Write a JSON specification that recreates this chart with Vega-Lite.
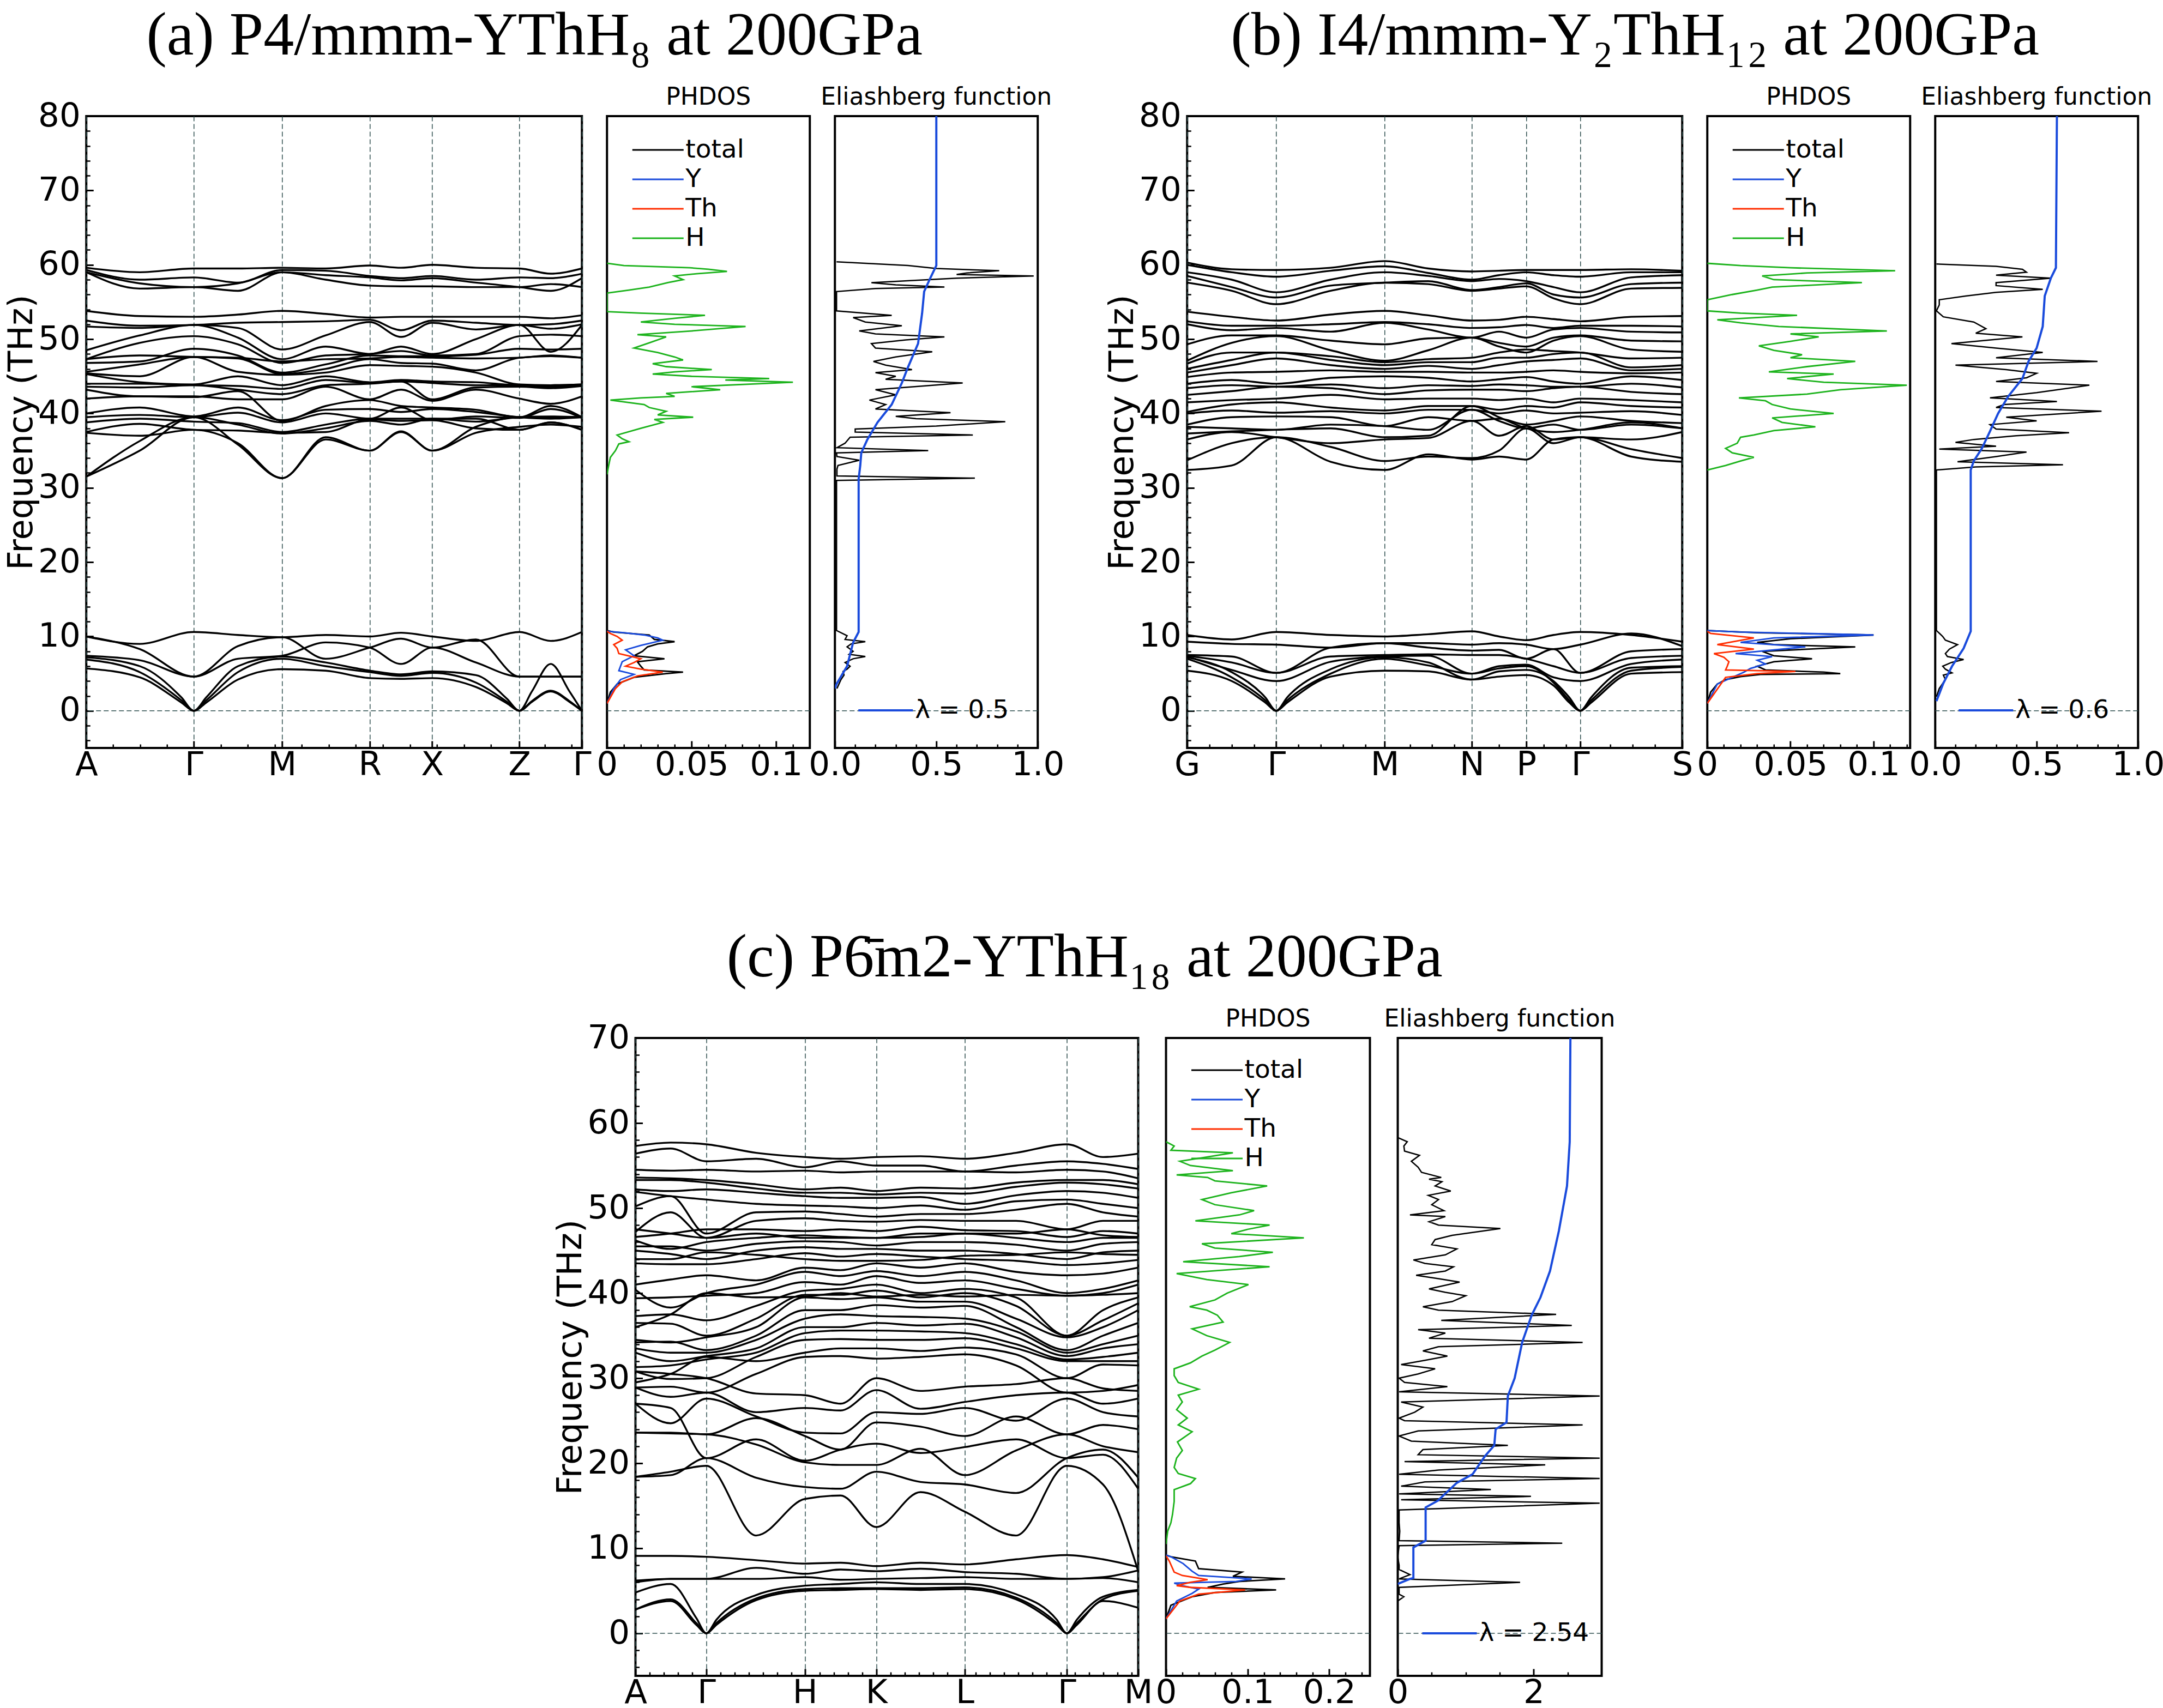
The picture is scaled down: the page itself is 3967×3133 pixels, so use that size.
{
"$schema":"https://vega.github.io/schema/vega-lite/v6.json",
"background":"white",
"padding":{"left":6,"top":10,"right":0,"bottom":0},
"config":{
 "view":{"stroke":"black","strokeWidth":4},
 "axis":{"domain":false,"grid":false,"labelFont":"DejaVu Sans","titleFont":"DejaVu Sans","labelFontSize":61,"titleFontSize":62,"titleFontWeight":"normal","labelColor":"black","titleColor":"black","tickColor":"black","labelFlush":false,"labelOverlap":false},
 "legend":{"labelFont":"DejaVu Sans","labelFontSize":47,"labelColor":"black","symbolType":"stroke","labelLimit":500},
 "title":{"font":"DejaVu Sans","fontWeight":"normal","color":"black"}
},
"datasets":{
"ba":[
{"b":1,"k":0,"f":10},{"b":1,"k":0.108,"f":9},{"b":1,"k":0.217,"f":10.6},{"b":1,"k":0.306,"f":10.2},{"b":1,"k":0.395,"f":9.9},{"b":1,"k":0.483,"f":10.2},{"b":1,"k":0.572,"f":10},{"b":1,"k":0.635,"f":10.5},{"b":1,"k":0.698,"f":10},{"b":1,"k":0.786,"f":9.4},{"b":1,"k":0.874,"f":10.6},{"b":1,"k":0.937,"f":9.4},{"b":1,"k":1,"f":10.6},
{"b":2,"k":0,"f":10},{"b":2,"k":0.108,"f":8.3},{"b":2,"k":0.217,"f":4.6},{"b":2,"k":0.306,"f":8.7},{"b":2,"k":0.395,"f":9.9},{"b":2,"k":0.483,"f":7},{"b":2,"k":0.572,"f":8.5},{"b":2,"k":0.635,"f":9.7},{"b":2,"k":0.698,"f":8.5},{"b":2,"k":0.786,"f":9.6},{"b":2,"k":0.874,"f":4.6},{"b":2,"k":0.937,"f":4.6},{"b":2,"k":1,"f":4.6},
{"b":3,"k":0,"f":7.4},{"b":3,"k":0.108,"f":6.8},{"b":3,"k":0.217,"f":4.6},{"b":3,"k":0.306,"f":7},{"b":3,"k":0.395,"f":7.4},{"b":3,"k":0.483,"f":9.2},{"b":3,"k":0.572,"f":8.5},{"b":3,"k":0.635,"f":6.3},{"b":3,"k":0.698,"f":8.5},{"b":3,"k":0.786,"f":6.5},{"b":3,"k":0.874,"f":4.6},{"b":3,"k":0.937,"f":4.6},{"b":3,"k":1,"f":4.6},
{"b":4,"k":0,"f":7.2},{"b":4,"k":0.108,"f":6},{"b":4,"k":0.192,"f":1.8},{"b":4,"k":0.217,"f":0},{"b":4,"k":0.242,"f":1.8},{"b":4,"k":0.306,"f":6},{"b":4,"k":0.395,"f":7.3},{"b":4,"k":0.483,"f":6.5},{"b":4,"k":0.572,"f":5.4},{"b":4,"k":0.635,"f":4.9},{"b":4,"k":0.698,"f":5.3},{"b":4,"k":0.786,"f":4.8},{"b":4,"k":0.849,"f":1.6},{"b":4,"k":0.874,"f":0},{"b":4,"k":0.899,"f":2.6},{"b":4,"k":0.937,"f":6.3},{"b":4,"k":0.975,"f":2.6},{"b":4,"k":1,"f":0},
{"b":5,"k":0,"f":6.9},{"b":5,"k":0.108,"f":5.2},{"b":5,"k":0.192,"f":1.4},{"b":5,"k":0.217,"f":0},{"b":5,"k":0.242,"f":1.4},{"b":5,"k":0.306,"f":5.2},{"b":5,"k":0.395,"f":7},{"b":5,"k":0.483,"f":6},{"b":5,"k":0.572,"f":5.2},{"b":5,"k":0.635,"f":4.7},{"b":5,"k":0.698,"f":5.1},{"b":5,"k":0.786,"f":3.8},{"b":5,"k":0.849,"f":1.2},{"b":5,"k":0.874,"f":0},{"b":5,"k":0.899,"f":1.3},{"b":5,"k":0.937,"f":2.7},{"b":5,"k":0.975,"f":1.3},{"b":5,"k":1,"f":0},
{"b":6,"k":0,"f":5.7},{"b":6,"k":0.108,"f":4.5},{"b":6,"k":0.192,"f":1.1},{"b":6,"k":0.217,"f":0},{"b":6,"k":0.242,"f":1.1},{"b":6,"k":0.306,"f":4.2},{"b":6,"k":0.395,"f":5.6},{"b":6,"k":0.483,"f":5.4},{"b":6,"k":0.572,"f":4.4},{"b":6,"k":0.635,"f":4.3},{"b":6,"k":0.698,"f":4.4},{"b":6,"k":0.786,"f":3.2},{"b":6,"k":0.849,"f":1},{"b":6,"k":0.874,"f":0},{"b":6,"k":0.899,"f":1.2},{"b":6,"k":0.937,"f":2.6},{"b":6,"k":0.975,"f":1.2},{"b":6,"k":1,"f":0},
{"b":7,"k":0,"f":59.6},{"b":7,"k":0.108,"f":59},{"b":7,"k":0.217,"f":59.5},{"b":7,"k":0.306,"f":59.5},{"b":7,"k":0.395,"f":59.6},{"b":7,"k":0.483,"f":59.5},{"b":7,"k":0.572,"f":59.9},{"b":7,"k":0.635,"f":59.6},{"b":7,"k":0.698,"f":60},{"b":7,"k":0.786,"f":59.6},{"b":7,"k":0.874,"f":59.5},{"b":7,"k":0.937,"f":58.8},{"b":7,"k":1,"f":59.5},
{"b":8,"k":0,"f":59.3},{"b":8,"k":0.108,"f":58},{"b":8,"k":0.217,"f":58.3},{"b":8,"k":0.306,"f":57.6},{"b":8,"k":0.395,"f":59.3},{"b":8,"k":0.483,"f":59.2},{"b":8,"k":0.572,"f":58.5},{"b":8,"k":0.635,"f":58.2},{"b":8,"k":0.698,"f":58.5},{"b":8,"k":0.786,"f":58},{"b":8,"k":0.874,"f":58.3},{"b":8,"k":0.937,"f":58.2},{"b":8,"k":1,"f":58.8},
{"b":9,"k":0,"f":59},{"b":9,"k":0.108,"f":57.5},{"b":9,"k":0.217,"f":57},{"b":9,"k":0.306,"f":57.5},{"b":9,"k":0.395,"f":59},{"b":9,"k":0.483,"f":58.6},{"b":9,"k":0.572,"f":58.3},{"b":9,"k":0.635,"f":57.9},{"b":9,"k":0.698,"f":58.2},{"b":9,"k":0.786,"f":57.6},{"b":9,"k":0.874,"f":57},{"b":9,"k":0.937,"f":56.5},{"b":9,"k":1,"f":58.2},
{"b":10,"k":0,"f":59},{"b":10,"k":0.108,"f":56.8},{"b":10,"k":0.217,"f":57},{"b":10,"k":0.306,"f":56.5},{"b":10,"k":0.395,"f":59},{"b":10,"k":0.483,"f":58},{"b":10,"k":0.572,"f":57.2},{"b":10,"k":0.635,"f":57.1},{"b":10,"k":0.698,"f":57.1},{"b":10,"k":0.786,"f":57},{"b":10,"k":0.874,"f":57},{"b":10,"k":0.937,"f":57.4},{"b":10,"k":1,"f":57},
{"b":11,"k":0,"f":53.8},{"b":11,"k":0.108,"f":53.1},{"b":11,"k":0.217,"f":53},{"b":11,"k":0.306,"f":53.3},{"b":11,"k":0.395,"f":53.8},{"b":11,"k":0.483,"f":53.4},{"b":11,"k":0.572,"f":52.9},{"b":11,"k":0.635,"f":53},{"b":11,"k":0.698,"f":53},{"b":11,"k":0.786,"f":53},{"b":11,"k":0.874,"f":53},{"b":11,"k":0.937,"f":52.8},{"b":11,"k":1,"f":53.2},
{"b":12,"k":0,"f":52.5},{"b":12,"k":0.108,"f":51.8},{"b":12,"k":0.217,"f":51.9},{"b":12,"k":0.306,"f":52.2},{"b":12,"k":0.395,"f":52.3},{"b":12,"k":0.483,"f":52.4},{"b":12,"k":0.572,"f":52.6},{"b":12,"k":0.635,"f":51.2},{"b":12,"k":0.698,"f":52.5},{"b":12,"k":0.786,"f":52.2},{"b":12,"k":0.874,"f":51.9},{"b":12,"k":0.937,"f":52},{"b":12,"k":1,"f":52.5},
{"b":13,"k":0,"f":51.7},{"b":13,"k":0.108,"f":51.5},{"b":13,"k":0.217,"f":51.9},{"b":13,"k":0.306,"f":51.5},{"b":13,"k":0.395,"f":48.6},{"b":13,"k":0.483,"f":50.5},{"b":13,"k":0.572,"f":52.3},{"b":13,"k":0.635,"f":50.3},{"b":13,"k":0.698,"f":52.2},{"b":13,"k":0.786,"f":51.3},{"b":13,"k":0.874,"f":51.9},{"b":13,"k":0.937,"f":51.4},{"b":13,"k":1,"f":52},
{"b":14,"k":0,"f":48.5},{"b":14,"k":0.108,"f":50.5},{"b":14,"k":0.217,"f":51.9},{"b":14,"k":0.306,"f":50.2},{"b":14,"k":0.395,"f":47.3},{"b":14,"k":0.483,"f":49},{"b":14,"k":0.572,"f":48},{"b":14,"k":0.635,"f":49},{"b":14,"k":0.698,"f":48},{"b":14,"k":0.786,"f":50},{"b":14,"k":0.874,"f":51.9},{"b":14,"k":0.937,"f":48.3},{"b":14,"k":1,"f":51.9},
{"b":15,"k":0,"f":47.3},{"b":15,"k":0.108,"f":49.5},{"b":15,"k":0.217,"f":50.4},{"b":15,"k":0.306,"f":49.3},{"b":15,"k":0.395,"f":46.8},{"b":15,"k":0.483,"f":47.8},{"b":15,"k":0.572,"f":48},{"b":15,"k":0.635,"f":48.4},{"b":15,"k":0.698,"f":47.8},{"b":15,"k":0.786,"f":48},{"b":15,"k":0.874,"f":50.4},{"b":15,"k":0.937,"f":50.6},{"b":15,"k":1,"f":50.4},
{"b":16,"k":0,"f":46.8},{"b":16,"k":0.108,"f":47},{"b":16,"k":0.217,"f":48.7},{"b":16,"k":0.306,"f":47.8},{"b":16,"k":0.395,"f":45.5},{"b":16,"k":0.483,"f":46.6},{"b":16,"k":0.572,"f":47.8},{"b":16,"k":0.635,"f":47.7},{"b":16,"k":0.698,"f":47.7},{"b":16,"k":0.786,"f":47.9},{"b":16,"k":0.874,"f":48.7},{"b":16,"k":0.937,"f":48.6},{"b":16,"k":1,"f":48.7},
{"b":17,"k":0,"f":45.6},{"b":17,"k":0.108,"f":46.6},{"b":17,"k":0.217,"f":47.6},{"b":17,"k":0.306,"f":47.4},{"b":17,"k":0.395,"f":45.3},{"b":17,"k":0.483,"f":46},{"b":17,"k":0.572,"f":47.3},{"b":17,"k":0.635,"f":46.8},{"b":17,"k":0.698,"f":46.7},{"b":17,"k":0.786,"f":45.8},{"b":17,"k":0.874,"f":47.5},{"b":17,"k":0.937,"f":47.7},{"b":17,"k":1,"f":47.5},
{"b":18,"k":0,"f":45.4},{"b":18,"k":0.108,"f":45},{"b":18,"k":0.217,"f":47.6},{"b":18,"k":0.306,"f":45.6},{"b":18,"k":0.395,"f":45.2},{"b":18,"k":0.483,"f":45.5},{"b":18,"k":0.572,"f":46.5},{"b":18,"k":0.635,"f":46.4},{"b":18,"k":0.698,"f":46.3},{"b":18,"k":0.786,"f":45.5},{"b":18,"k":0.874,"f":43.9},{"b":18,"k":0.937,"f":43.8},{"b":18,"k":1,"f":43.9},
{"b":19,"k":0,"f":45.3},{"b":19,"k":0.108,"f":44.2},{"b":19,"k":0.217,"f":43.9},{"b":19,"k":0.306,"f":45},{"b":19,"k":0.395,"f":43.8},{"b":19,"k":0.483,"f":45},{"b":19,"k":0.572,"f":44.2},{"b":19,"k":0.635,"f":44.5},{"b":19,"k":0.698,"f":44.3},{"b":19,"k":0.786,"f":44.2},{"b":19,"k":0.874,"f":43.8},{"b":19,"k":0.937,"f":43.8},{"b":19,"k":1,"f":43.9},
{"b":20,"k":0,"f":44},{"b":20,"k":0.108,"f":44},{"b":20,"k":0.217,"f":43.8},{"b":20,"k":0.306,"f":43.7},{"b":20,"k":0.395,"f":43.3},{"b":20,"k":0.483,"f":44.5},{"b":20,"k":0.572,"f":44.1},{"b":20,"k":0.635,"f":44.3},{"b":20,"k":0.698,"f":44.1},{"b":20,"k":0.786,"f":43.8},{"b":20,"k":0.874,"f":43.8},{"b":20,"k":0.937,"f":43.6},{"b":20,"k":1,"f":43.8},
{"b":21,"k":0,"f":43.6},{"b":21,"k":0.108,"f":43.5},{"b":21,"k":0.217,"f":43.8},{"b":21,"k":0.306,"f":43.2},{"b":21,"k":0.395,"f":42.6},{"b":21,"k":0.483,"f":43.8},{"b":21,"k":0.572,"f":44},{"b":21,"k":0.635,"f":44.3},{"b":21,"k":0.698,"f":41.9},{"b":21,"k":0.786,"f":43.5},{"b":21,"k":0.874,"f":43.6},{"b":21,"k":0.937,"f":43.4},{"b":21,"k":1,"f":43.7},
{"b":22,"k":0,"f":43.2},{"b":22,"k":0.108,"f":42.3},{"b":22,"k":0.217,"f":42.3},{"b":22,"k":0.306,"f":41.9},{"b":22,"k":0.395,"f":41.9},{"b":22,"k":0.483,"f":43.6},{"b":22,"k":0.572,"f":41.9},{"b":22,"k":0.635,"f":43.2},{"b":22,"k":0.698,"f":41.7},{"b":22,"k":0.786,"f":43.2},{"b":22,"k":0.874,"f":42},{"b":22,"k":0.937,"f":41.3},{"b":22,"k":1,"f":42.3},
{"b":23,"k":0,"f":42},{"b":23,"k":0.108,"f":42.3},{"b":23,"k":0.217,"f":42.2},{"b":23,"k":0.306,"f":43},{"b":23,"k":0.395,"f":39},{"b":23,"k":0.483,"f":41},{"b":23,"k":0.572,"f":41.8},{"b":23,"k":0.635,"f":41},{"b":23,"k":0.698,"f":40.8},{"b":23,"k":0.786,"f":40.5},{"b":23,"k":0.874,"f":39.5},{"b":23,"k":0.937,"f":41},{"b":23,"k":1,"f":39.5},
{"b":24,"k":0,"f":40},{"b":24,"k":0.108,"f":40.8},{"b":24,"k":0.217,"f":39.6},{"b":24,"k":0.306,"f":40.8},{"b":24,"k":0.395,"f":39.1},{"b":24,"k":0.483,"f":40.5},{"b":24,"k":0.572,"f":40.6},{"b":24,"k":0.635,"f":40.2},{"b":24,"k":0.698,"f":40.6},{"b":24,"k":0.786,"f":40.2},{"b":24,"k":0.874,"f":39.5},{"b":24,"k":0.937,"f":39.3},{"b":24,"k":1,"f":39.5},
{"b":25,"k":0,"f":39.5},{"b":25,"k":0.108,"f":39.8},{"b":25,"k":0.217,"f":39.5},{"b":25,"k":0.306,"f":40.1},{"b":25,"k":0.395,"f":38.8},{"b":25,"k":0.483,"f":40},{"b":25,"k":0.572,"f":39.3},{"b":25,"k":0.635,"f":40.8},{"b":25,"k":0.698,"f":39.1},{"b":25,"k":0.786,"f":39.6},{"b":25,"k":0.874,"f":39.4},{"b":25,"k":0.937,"f":40.6},{"b":25,"k":1,"f":39.4},
{"b":26,"k":0,"f":38.8},{"b":26,"k":0.108,"f":39.3},{"b":26,"k":0.217,"f":38.9},{"b":26,"k":0.306,"f":38.7},{"b":26,"k":0.395,"f":37.5},{"b":26,"k":0.483,"f":38.5},{"b":26,"k":0.572,"f":39.3},{"b":26,"k":0.635,"f":39.3},{"b":26,"k":0.698,"f":39.3},{"b":26,"k":0.786,"f":39.3},{"b":26,"k":0.874,"f":37.8},{"b":26,"k":0.937,"f":38.8},{"b":26,"k":1,"f":37.8},
{"b":27,"k":0,"f":37.5},{"b":27,"k":0.108,"f":38.6},{"b":27,"k":0.217,"f":37.8},{"b":27,"k":0.306,"f":37.7},{"b":27,"k":0.395,"f":37.4},{"b":27,"k":0.483,"f":37.5},{"b":27,"k":0.572,"f":39.2},{"b":27,"k":0.635,"f":39},{"b":27,"k":0.698,"f":39.1},{"b":27,"k":0.786,"f":38},{"b":27,"k":0.874,"f":37.8},{"b":27,"k":0.937,"f":38.8},{"b":27,"k":1,"f":37.8},
{"b":28,"k":0,"f":37.4},{"b":28,"k":0.108,"f":37},{"b":28,"k":0.217,"f":37.8},{"b":28,"k":0.306,"f":36},{"b":28,"k":0.395,"f":31.3},{"b":28,"k":0.483,"f":36.5},{"b":28,"k":0.572,"f":35},{"b":28,"k":0.635,"f":37.5},{"b":28,"k":0.698,"f":35},{"b":28,"k":0.786,"f":37.4},{"b":28,"k":0.874,"f":38.2},{"b":28,"k":0.937,"f":38.5},{"b":28,"k":1,"f":38.2},
{"b":29,"k":0,"f":31.5},{"b":29,"k":0.108,"f":36.3},{"b":29,"k":0.217,"f":39.5},{"b":29,"k":0.306,"f":35.8},{"b":29,"k":0.395,"f":31.3},{"b":29,"k":0.483,"f":36.8},{"b":29,"k":0.572,"f":35},{"b":29,"k":0.635,"f":37.6},{"b":29,"k":0.698,"f":35},{"b":29,"k":0.786,"f":38.2},{"b":29,"k":0.874,"f":39.5},{"b":29,"k":0.937,"f":39.4},{"b":29,"k":1,"f":39.5},
{"b":30,"k":0,"f":31.5},{"b":30,"k":0.108,"f":35},{"b":30,"k":0.217,"f":39.5},{"b":30,"k":0.306,"f":38.5},{"b":30,"k":0.395,"f":37.3},{"b":30,"k":0.483,"f":38},{"b":30,"k":0.572,"f":39},{"b":30,"k":0.635,"f":38.5},{"b":30,"k":0.698,"f":39.3},{"b":30,"k":0.786,"f":38.9},{"b":30,"k":0.874,"f":39.5},{"b":30,"k":0.937,"f":39.6},{"b":30,"k":1,"f":39.5},
{"b":31,"k":0,"f":47.3},{"b":31,"k":0.108,"f":47.8},{"b":31,"k":0.217,"f":47.6},{"b":31,"k":0.306,"f":47.5},{"b":31,"k":0.395,"f":47},{"b":31,"k":0.483,"f":47.3},{"b":31,"k":0.572,"f":47.4},{"b":31,"k":0.635,"f":47.6},{"b":31,"k":0.698,"f":47.5},{"b":31,"k":0.786,"f":47.4},{"b":31,"k":0.874,"f":47.5},{"b":31,"k":0.937,"f":47.8},{"b":31,"k":1,"f":47.5}
],
"bb":[
{"b":1,"k":0,"f":10.2},{"b":1,"k":0.09,"f":9.6},{"b":1,"k":0.18,"f":10.6},{"b":1,"k":0.29,"f":10.2},{"b":1,"k":0.399,"f":10},{"b":1,"k":0.487,"f":10.3},{"b":1,"k":0.575,"f":10.7},{"b":1,"k":0.63,"f":10},{"b":1,"k":0.685,"f":9.5},{"b":1,"k":0.74,"f":10.2},{"b":1,"k":0.794,"f":10.6},{"b":1,"k":0.897,"f":10.2},{"b":1,"k":1,"f":9.3},
{"b":2,"k":0,"f":9.3},{"b":2,"k":0.09,"f":9},{"b":2,"k":0.18,"f":8.9},{"b":2,"k":0.29,"f":8.5},{"b":2,"k":0.399,"f":9.1},{"b":2,"k":0.487,"f":9.1},{"b":2,"k":0.575,"f":8.9},{"b":2,"k":0.63,"f":9.1},{"b":2,"k":0.685,"f":8.9},{"b":2,"k":0.74,"f":8.3},{"b":2,"k":0.794,"f":8.9},{"b":2,"k":0.897,"f":10.4},{"b":2,"k":1,"f":8.7},
{"b":3,"k":0,"f":7.5},{"b":3,"k":0.09,"f":7.3},{"b":3,"k":0.18,"f":5.1},{"b":3,"k":0.29,"f":8.5},{"b":3,"k":0.399,"f":9.1},{"b":3,"k":0.487,"f":8.5},{"b":3,"k":0.575,"f":8.1},{"b":3,"k":0.63,"f":8.2},{"b":3,"k":0.685,"f":7},{"b":3,"k":0.74,"f":8.3},{"b":3,"k":0.794,"f":5.1},{"b":3,"k":0.897,"f":8},{"b":3,"k":1,"f":8.3},
{"b":4,"k":0,"f":7.4},{"b":4,"k":0.09,"f":6.5},{"b":4,"k":0.18,"f":5.1},{"b":4,"k":0.29,"f":7.3},{"b":4,"k":0.399,"f":7.5},{"b":4,"k":0.487,"f":7.6},{"b":4,"k":0.575,"f":7.5},{"b":4,"k":0.63,"f":7.5},{"b":4,"k":0.685,"f":7},{"b":4,"k":0.74,"f":6},{"b":4,"k":0.794,"f":5.1},{"b":4,"k":0.897,"f":7.1},{"b":4,"k":1,"f":7.4},
{"b":5,"k":0,"f":7.3},{"b":5,"k":0.09,"f":5.5},{"b":5,"k":0.18,"f":4},{"b":5,"k":0.29,"f":6.6},{"b":5,"k":0.399,"f":7.3},{"b":5,"k":0.487,"f":7.4},{"b":5,"k":0.575,"f":5},{"b":5,"k":0.63,"f":6},{"b":5,"k":0.685,"f":6.2},{"b":5,"k":0.74,"f":4.5},{"b":5,"k":0.794,"f":4},{"b":5,"k":0.897,"f":6.3},{"b":5,"k":1,"f":6.9},
{"b":6,"k":0,"f":7.2},{"b":6,"k":0.09,"f":5.2},{"b":6,"k":0.158,"f":1.8},{"b":6,"k":0.18,"f":0},{"b":6,"k":0.202,"f":1.8},{"b":6,"k":0.29,"f":5.6},{"b":6,"k":0.399,"f":7.2},{"b":6,"k":0.487,"f":6.5},{"b":6,"k":0.575,"f":4.2},{"b":6,"k":0.63,"f":5.3},{"b":6,"k":0.685,"f":5.5},{"b":6,"k":0.74,"f":4},{"b":6,"k":0.772,"f":1.8},{"b":6,"k":0.794,"f":0},{"b":6,"k":0.816,"f":1.8},{"b":6,"k":0.897,"f":5.8},{"b":6,"k":1,"f":6},
{"b":7,"k":0,"f":7},{"b":7,"k":0.09,"f":4.5},{"b":7,"k":0.158,"f":1.4},{"b":7,"k":0.18,"f":0},{"b":7,"k":0.202,"f":1.4},{"b":7,"k":0.29,"f":5},{"b":7,"k":0.399,"f":7},{"b":7,"k":0.487,"f":6.1},{"b":7,"k":0.575,"f":5},{"b":7,"k":0.63,"f":5.7},{"b":7,"k":0.685,"f":6},{"b":7,"k":0.74,"f":3.8},{"b":7,"k":0.772,"f":1.4},{"b":7,"k":0.794,"f":0},{"b":7,"k":0.816,"f":1.4},{"b":7,"k":0.897,"f":5.4},{"b":7,"k":1,"f":5.9},
{"b":8,"k":0,"f":5.4},{"b":8,"k":0.09,"f":4},{"b":8,"k":0.158,"f":1.1},{"b":8,"k":0.18,"f":0},{"b":8,"k":0.202,"f":1.1},{"b":8,"k":0.29,"f":4.6},{"b":8,"k":0.399,"f":5.4},{"b":8,"k":0.487,"f":5.3},{"b":8,"k":0.575,"f":4.2},{"b":8,"k":0.63,"f":4.6},{"b":8,"k":0.685,"f":4.8},{"b":8,"k":0.74,"f":3.4},{"b":8,"k":0.772,"f":1.1},{"b":8,"k":0.794,"f":0},{"b":8,"k":0.816,"f":1.1},{"b":8,"k":0.897,"f":5},{"b":8,"k":1,"f":5.2},
{"b":9,"k":0,"f":60.3},{"b":9,"k":0.09,"f":59.4},{"b":9,"k":0.18,"f":59.3},{"b":9,"k":0.29,"f":59.6},{"b":9,"k":0.399,"f":60.5},{"b":9,"k":0.487,"f":59.5},{"b":9,"k":0.575,"f":59.1},{"b":9,"k":0.63,"f":59.2},{"b":9,"k":0.685,"f":59.3},{"b":9,"k":0.74,"f":59.3},{"b":9,"k":0.794,"f":59.3},{"b":9,"k":0.897,"f":59.4},{"b":9,"k":1,"f":59.2},
{"b":10,"k":0,"f":60},{"b":10,"k":0.09,"f":59},{"b":10,"k":0.18,"f":58.4},{"b":10,"k":0.29,"f":59.2},{"b":10,"k":0.399,"f":59.8},{"b":10,"k":0.487,"f":58.9},{"b":10,"k":0.575,"f":58},{"b":10,"k":0.63,"f":58.6},{"b":10,"k":0.685,"f":59},{"b":10,"k":0.74,"f":58.6},{"b":10,"k":0.794,"f":58.4},{"b":10,"k":0.897,"f":59},{"b":10,"k":1,"f":59},
{"b":11,"k":0,"f":59},{"b":11,"k":0.09,"f":58},{"b":11,"k":0.18,"f":56.3},{"b":11,"k":0.29,"f":58},{"b":11,"k":0.399,"f":59},{"b":11,"k":0.487,"f":58.5},{"b":11,"k":0.575,"f":57.8},{"b":11,"k":0.63,"f":58.1},{"b":11,"k":0.685,"f":57.8},{"b":11,"k":0.74,"f":57},{"b":11,"k":0.794,"f":56.3},{"b":11,"k":0.897,"f":58.3},{"b":11,"k":1,"f":58.6},
{"b":12,"k":0,"f":58.5},{"b":12,"k":0.09,"f":57},{"b":12,"k":0.18,"f":55.6},{"b":12,"k":0.29,"f":57.2},{"b":12,"k":0.399,"f":57.6},{"b":12,"k":0.487,"f":57.8},{"b":12,"k":0.575,"f":56.6},{"b":12,"k":0.63,"f":57},{"b":12,"k":0.685,"f":57.5},{"b":12,"k":0.74,"f":56},{"b":12,"k":0.794,"f":55.6},{"b":12,"k":0.897,"f":57.4},{"b":12,"k":1,"f":57.6},
{"b":13,"k":0,"f":57.6},{"b":13,"k":0.09,"f":56.5},{"b":13,"k":0.18,"f":54.7},{"b":13,"k":0.29,"f":56.5},{"b":13,"k":0.399,"f":57.6},{"b":13,"k":0.487,"f":57.4},{"b":13,"k":0.575,"f":56.5},{"b":13,"k":0.63,"f":56.8},{"b":13,"k":0.685,"f":57.1},{"b":13,"k":0.74,"f":55.5},{"b":13,"k":0.794,"f":54.7},{"b":13,"k":0.897,"f":56.8},{"b":13,"k":1,"f":56.9},
{"b":14,"k":0,"f":53.7},{"b":14,"k":0.09,"f":53},{"b":14,"k":0.18,"f":52.5},{"b":14,"k":0.29,"f":53.3},{"b":14,"k":0.399,"f":53.8},{"b":14,"k":0.487,"f":53.2},{"b":14,"k":0.575,"f":52.5},{"b":14,"k":0.63,"f":52.6},{"b":14,"k":0.685,"f":53},{"b":14,"k":0.74,"f":52.7},{"b":14,"k":0.794,"f":52.4},{"b":14,"k":0.897,"f":53},{"b":14,"k":1,"f":53.1},
{"b":15,"k":0,"f":52.4},{"b":15,"k":0.09,"f":51.8},{"b":15,"k":0.18,"f":51.8},{"b":15,"k":0.29,"f":52},{"b":15,"k":0.399,"f":52.3},{"b":15,"k":0.487,"f":52},{"b":15,"k":0.575,"f":51.5},{"b":15,"k":0.63,"f":51.6},{"b":15,"k":0.685,"f":51.9},{"b":15,"k":0.74,"f":51.5},{"b":15,"k":0.794,"f":51.8},{"b":15,"k":0.897,"f":51.8},{"b":15,"k":1,"f":51.7},
{"b":16,"k":0,"f":52},{"b":16,"k":0.09,"f":51.2},{"b":16,"k":0.18,"f":51.5},{"b":16,"k":0.29,"f":51},{"b":16,"k":0.399,"f":52.2},{"b":16,"k":0.487,"f":51.3},{"b":16,"k":0.575,"f":50.2},{"b":16,"k":0.63,"f":51},{"b":16,"k":0.685,"f":50.2},{"b":16,"k":0.74,"f":51.3},{"b":16,"k":0.794,"f":51.5},{"b":16,"k":0.897,"f":51},{"b":16,"k":1,"f":50.9},
{"b":17,"k":0,"f":49.3},{"b":17,"k":0.09,"f":50.5},{"b":17,"k":0.18,"f":50.5},{"b":17,"k":0.29,"f":49.8},{"b":17,"k":0.399,"f":49.3},{"b":17,"k":0.487,"f":50.1},{"b":17,"k":0.575,"f":50.2},{"b":17,"k":0.63,"f":49.5},{"b":17,"k":0.685,"f":49},{"b":17,"k":0.74,"f":50.2},{"b":17,"k":0.794,"f":50.5},{"b":17,"k":0.897,"f":49.8},{"b":17,"k":1,"f":49.7},
{"b":18,"k":0,"f":47.1},{"b":18,"k":0.09,"f":49.5},{"b":18,"k":0.18,"f":50.4},{"b":18,"k":0.29,"f":48.5},{"b":18,"k":0.399,"f":47.1},{"b":18,"k":0.487,"f":48.5},{"b":18,"k":0.575,"f":50.2},{"b":18,"k":0.63,"f":49},{"b":18,"k":0.685,"f":48.2},{"b":18,"k":0.74,"f":49.8},{"b":18,"k":0.794,"f":50.4},{"b":18,"k":0.897,"f":48.6},{"b":18,"k":1,"f":48.3},
{"b":19,"k":0,"f":46.7},{"b":19,"k":0.09,"f":48.2},{"b":19,"k":0.18,"f":48.2},{"b":19,"k":0.29,"f":47.7},{"b":19,"k":0.399,"f":46.9},{"b":19,"k":0.487,"f":47.3},{"b":19,"k":0.575,"f":47.5},{"b":19,"k":0.63,"f":48.2},{"b":19,"k":0.685,"f":48.6},{"b":19,"k":0.74,"f":48.4},{"b":19,"k":0.794,"f":48.2},{"b":19,"k":0.897,"f":47.4},{"b":19,"k":1,"f":47.5},
{"b":20,"k":0,"f":46},{"b":20,"k":0.09,"f":47.2},{"b":20,"k":0.18,"f":48.2},{"b":20,"k":0.29,"f":47.2},{"b":20,"k":0.399,"f":46.5},{"b":20,"k":0.487,"f":46.9},{"b":20,"k":0.575,"f":46.9},{"b":20,"k":0.63,"f":47.5},{"b":20,"k":0.685,"f":47.5},{"b":20,"k":0.74,"f":48},{"b":20,"k":0.794,"f":48.2},{"b":20,"k":0.897,"f":46.2},{"b":20,"k":1,"f":46.5},
{"b":21,"k":0,"f":45.5},{"b":21,"k":0.09,"f":46.5},{"b":21,"k":0.18,"f":47.4},{"b":21,"k":0.29,"f":46.5},{"b":21,"k":0.399,"f":46},{"b":21,"k":0.487,"f":46.4},{"b":21,"k":0.575,"f":46},{"b":21,"k":0.63,"f":46.5},{"b":21,"k":0.685,"f":47},{"b":21,"k":0.74,"f":47.2},{"b":21,"k":0.794,"f":47.4},{"b":21,"k":0.897,"f":45.8},{"b":21,"k":1,"f":46},
{"b":22,"k":0,"f":44.9},{"b":22,"k":0.09,"f":45.5},{"b":22,"k":0.18,"f":45.6},{"b":22,"k":0.29,"f":45.8},{"b":22,"k":0.399,"f":45.6},{"b":22,"k":0.487,"f":45.6},{"b":22,"k":0.575,"f":45.5},{"b":22,"k":0.63,"f":45.5},{"b":22,"k":0.685,"f":45.6},{"b":22,"k":0.74,"f":45.8},{"b":22,"k":0.794,"f":45.6},{"b":22,"k":0.897,"f":45.4},{"b":22,"k":1,"f":45.5},
{"b":23,"k":0,"f":44},{"b":23,"k":0.09,"f":44.5},{"b":23,"k":0.18,"f":44},{"b":23,"k":0.29,"f":44.8},{"b":23,"k":0.399,"f":45},{"b":23,"k":0.487,"f":44.8},{"b":23,"k":0.575,"f":44.3},{"b":23,"k":0.63,"f":44.6},{"b":23,"k":0.685,"f":44.9},{"b":23,"k":0.74,"f":44.3},{"b":23,"k":0.794,"f":44},{"b":23,"k":0.897,"f":45},{"b":23,"k":1,"f":44.5},
{"b":24,"k":0,"f":43.4},{"b":24,"k":0.09,"f":43.8},{"b":24,"k":0.18,"f":43.6},{"b":24,"k":0.29,"f":43.9},{"b":24,"k":0.399,"f":43.4},{"b":24,"k":0.487,"f":43.8},{"b":24,"k":0.575,"f":43.7},{"b":24,"k":0.63,"f":43.9},{"b":24,"k":0.685,"f":43.8},{"b":24,"k":0.74,"f":43.6},{"b":24,"k":0.794,"f":43.6},{"b":24,"k":0.897,"f":44},{"b":24,"k":1,"f":43.5},
{"b":25,"k":0,"f":42.5},{"b":25,"k":0.09,"f":43},{"b":25,"k":0.18,"f":43.6},{"b":25,"k":0.29,"f":43.4},{"b":25,"k":0.399,"f":42.6},{"b":25,"k":0.487,"f":43.1},{"b":25,"k":0.575,"f":43.2},{"b":25,"k":0.63,"f":43.2},{"b":25,"k":0.685,"f":43},{"b":25,"k":0.74,"f":43.4},{"b":25,"k":0.794,"f":43.6},{"b":25,"k":0.897,"f":42.9},{"b":25,"k":1,"f":42.6},
{"b":26,"k":0,"f":41.5},{"b":26,"k":0.09,"f":41.8},{"b":26,"k":0.18,"f":42},{"b":26,"k":0.29,"f":42.5},{"b":26,"k":0.399,"f":41.9},{"b":26,"k":0.487,"f":42},{"b":26,"k":0.575,"f":42},{"b":26,"k":0.63,"f":41.8},{"b":26,"k":0.685,"f":42},{"b":26,"k":0.74,"f":41.5},{"b":26,"k":0.794,"f":42},{"b":26,"k":0.897,"f":41.8},{"b":26,"k":1,"f":41.5},
{"b":27,"k":0,"f":40.2},{"b":27,"k":0.09,"f":41.2},{"b":27,"k":0.18,"f":41.5},{"b":27,"k":0.29,"f":40.8},{"b":27,"k":0.399,"f":40.4},{"b":27,"k":0.487,"f":41},{"b":27,"k":0.575,"f":41},{"b":27,"k":0.63,"f":40.5},{"b":27,"k":0.685,"f":41},{"b":27,"k":0.74,"f":40.8},{"b":27,"k":0.794,"f":41.5},{"b":27,"k":0.897,"f":41},{"b":27,"k":1,"f":40.8},
{"b":28,"k":0,"f":40},{"b":28,"k":0.09,"f":40.4},{"b":28,"k":0.18,"f":40.1},{"b":28,"k":0.29,"f":40.3},{"b":28,"k":0.399,"f":40},{"b":28,"k":0.487,"f":40.5},{"b":28,"k":0.575,"f":40.5},{"b":28,"k":0.63,"f":40},{"b":28,"k":0.685,"f":40.4},{"b":28,"k":0.74,"f":40},{"b":28,"k":0.794,"f":40.1},{"b":28,"k":0.897,"f":40.3},{"b":28,"k":1,"f":39.8},
{"b":29,"k":0,"f":38.5},{"b":29,"k":0.09,"f":39.5},{"b":29,"k":0.18,"f":39.6},{"b":29,"k":0.29,"f":39.5},{"b":29,"k":0.399,"f":38.3},{"b":29,"k":0.487,"f":39.5},{"b":29,"k":0.575,"f":39},{"b":29,"k":0.63,"f":39.3},{"b":29,"k":0.685,"f":38.5},{"b":29,"k":0.74,"f":39},{"b":29,"k":0.794,"f":39.6},{"b":29,"k":0.897,"f":39},{"b":29,"k":1,"f":38.7},
{"b":30,"k":0,"f":38.2},{"b":30,"k":0.09,"f":38},{"b":30,"k":0.18,"f":37.8},{"b":30,"k":0.29,"f":38.5},{"b":30,"k":0.399,"f":38.3},{"b":30,"k":0.487,"f":37.8},{"b":30,"k":0.575,"f":40.5},{"b":30,"k":0.63,"f":39},{"b":30,"k":0.685,"f":38},{"b":30,"k":0.74,"f":38.5},{"b":30,"k":0.794,"f":37.8},{"b":30,"k":0.897,"f":38.5},{"b":30,"k":1,"f":38},
{"b":31,"k":0,"f":37.3},{"b":31,"k":0.09,"f":37.6},{"b":31,"k":0.18,"f":37.8},{"b":31,"k":0.29,"f":38},{"b":31,"k":0.399,"f":36.8},{"b":31,"k":0.487,"f":37},{"b":31,"k":0.575,"f":41},{"b":31,"k":0.63,"f":39.5},{"b":31,"k":0.685,"f":38},{"b":31,"k":0.74,"f":37.5},{"b":31,"k":0.794,"f":37.8},{"b":31,"k":0.897,"f":38.8},{"b":31,"k":1,"f":38},
{"b":32,"k":0,"f":36.5},{"b":32,"k":0.09,"f":37.5},{"b":32,"k":0.18,"f":36.8},{"b":32,"k":0.29,"f":36},{"b":32,"k":0.399,"f":36.5},{"b":32,"k":0.487,"f":36.7},{"b":32,"k":0.575,"f":39},{"b":32,"k":0.63,"f":37},{"b":32,"k":0.685,"f":38.3},{"b":32,"k":0.74,"f":36.5},{"b":32,"k":0.794,"f":36.8},{"b":32,"k":0.897,"f":36.5},{"b":32,"k":1,"f":37.5},
{"b":33,"k":0,"f":33.7},{"b":33,"k":0.09,"f":36},{"b":33,"k":0.18,"f":36.8},{"b":33,"k":0.29,"f":35.5},{"b":33,"k":0.399,"f":33.6},{"b":33,"k":0.487,"f":34.2},{"b":33,"k":0.575,"f":34},{"b":33,"k":0.63,"f":35},{"b":33,"k":0.685,"f":38},{"b":33,"k":0.74,"f":36},{"b":33,"k":0.794,"f":36.8},{"b":33,"k":0.897,"f":35.2},{"b":33,"k":1,"f":34},
{"b":34,"k":0,"f":32.4},{"b":34,"k":0.09,"f":33},{"b":34,"k":0.18,"f":36.8},{"b":34,"k":0.29,"f":33.5},{"b":34,"k":0.399,"f":32.4},{"b":34,"k":0.487,"f":34.5},{"b":34,"k":0.575,"f":33.8},{"b":34,"k":0.63,"f":34.2},{"b":34,"k":0.685,"f":33.8},{"b":34,"k":0.74,"f":36.5},{"b":34,"k":0.794,"f":36.8},{"b":34,"k":0.897,"f":34.2},{"b":34,"k":1,"f":33.5}
],
"bc":[
{"b":1,"k":0,"f":9.1},{"b":1,"k":0.07,"f":9.1},{"b":1,"k":0.141,"f":9},{"b":1,"k":0.24,"f":8.6},{"b":1,"k":0.337,"f":8.2},{"b":1,"k":0.408,"f":8.3},{"b":1,"k":0.479,"f":7.9},{"b":1,"k":0.567,"f":8.3},{"b":1,"k":0.655,"f":8.1},{"b":1,"k":0.757,"f":8.7},{"b":1,"k":0.858,"f":9.2},{"b":1,"k":0.93,"f":8.7},{"b":1,"k":1,"f":7.8},
{"b":2,"k":0,"f":6.2},{"b":2,"k":0.07,"f":6.4},{"b":2,"k":0.141,"f":6.4},{"b":2,"k":0.24,"f":7.7},{"b":2,"k":0.337,"f":7},{"b":2,"k":0.408,"f":7.5},{"b":2,"k":0.479,"f":7.3},{"b":2,"k":0.567,"f":7.6},{"b":2,"k":0.655,"f":7.2},{"b":2,"k":0.757,"f":7},{"b":2,"k":0.858,"f":6.4},{"b":2,"k":0.93,"f":6.6},{"b":2,"k":1,"f":7.4},
{"b":3,"k":0,"f":6},{"b":3,"k":0.07,"f":6.4},{"b":3,"k":0.141,"f":6.4},{"b":3,"k":0.24,"f":6.4},{"b":3,"k":0.337,"f":6.6},{"b":3,"k":0.408,"f":6.3},{"b":3,"k":0.479,"f":6.4},{"b":3,"k":0.567,"f":6.5},{"b":3,"k":0.655,"f":6.6},{"b":3,"k":0.757,"f":6.4},{"b":3,"k":0.858,"f":6.4},{"b":3,"k":0.93,"f":6.5},{"b":3,"k":1,"f":6},
{"b":4,"k":0,"f":4.8},{"b":4,"k":0.07,"f":5.8},{"b":4,"k":0.121,"f":1.8},{"b":4,"k":0.141,"f":0},{"b":4,"k":0.161,"f":1.6},{"b":4,"k":0.24,"f":4.5},{"b":4,"k":0.337,"f":5.6},{"b":4,"k":0.408,"f":5.8},{"b":4,"k":0.479,"f":6},{"b":4,"k":0.567,"f":5.8},{"b":4,"k":0.655,"f":5.8},{"b":4,"k":0.757,"f":4.6},{"b":4,"k":0.838,"f":1.6},{"b":4,"k":0.858,"f":0},{"b":4,"k":0.878,"f":1.6},{"b":4,"k":0.93,"f":4.3},{"b":4,"k":1,"f":5.1},
{"b":5,"k":0,"f":2.8},{"b":5,"k":0.07,"f":4},{"b":5,"k":0.121,"f":1.2},{"b":5,"k":0.141,"f":0},{"b":5,"k":0.161,"f":1.2},{"b":5,"k":0.24,"f":4.1},{"b":5,"k":0.337,"f":5.2},{"b":5,"k":0.408,"f":5.3},{"b":5,"k":0.479,"f":5.3},{"b":5,"k":0.567,"f":5.3},{"b":5,"k":0.655,"f":5.4},{"b":5,"k":0.757,"f":4.2},{"b":5,"k":0.838,"f":1.2},{"b":5,"k":0.858,"f":0},{"b":5,"k":0.878,"f":1.2},{"b":5,"k":0.93,"f":4},{"b":5,"k":1,"f":5},
{"b":6,"k":0,"f":2.8},{"b":6,"k":0.07,"f":3.8},{"b":6,"k":0.121,"f":1},{"b":6,"k":0.141,"f":0},{"b":6,"k":0.161,"f":1},{"b":6,"k":0.24,"f":3.9},{"b":6,"k":0.337,"f":5},{"b":6,"k":0.408,"f":5.1},{"b":6,"k":0.479,"f":5.2},{"b":6,"k":0.567,"f":5.1},{"b":6,"k":0.655,"f":5.2},{"b":6,"k":0.757,"f":4},{"b":6,"k":0.838,"f":1},{"b":6,"k":0.858,"f":0},{"b":6,"k":0.878,"f":1},{"b":6,"k":0.93,"f":3.8},{"b":6,"k":1,"f":3},
{"b":7,"k":0,"f":18.4},{"b":7,"k":0.07,"f":19},{"b":7,"k":0.141,"f":19.7},{"b":7,"k":0.24,"f":11.5},{"b":7,"k":0.337,"f":15.8},{"b":7,"k":0.408,"f":16.2},{"b":7,"k":0.479,"f":12.5},{"b":7,"k":0.567,"f":16.6},{"b":7,"k":0.655,"f":14.3},{"b":7,"k":0.757,"f":11.5},{"b":7,"k":0.858,"f":19.7},{"b":7,"k":0.93,"f":17.5},{"b":7,"k":1,"f":7.3},
{"b":8,"k":0,"f":18.4},{"b":8,"k":0.07,"f":18.6},{"b":8,"k":0.141,"f":20.6},{"b":8,"k":0.24,"f":18.3},{"b":8,"k":0.337,"f":17.2},{"b":8,"k":0.408,"f":17},{"b":8,"k":0.479,"f":19},{"b":8,"k":0.567,"f":17.8},{"b":8,"k":0.655,"f":17.5},{"b":8,"k":0.757,"f":16.5},{"b":8,"k":0.858,"f":20.6},{"b":8,"k":0.93,"f":21.6},{"b":8,"k":1,"f":18.3},
{"b":9,"k":0,"f":23.6},{"b":9,"k":0.07,"f":23.5},{"b":9,"k":0.141,"f":23.4},{"b":9,"k":0.24,"f":22.2},{"b":9,"k":0.337,"f":20.1},{"b":9,"k":0.408,"f":19.8},{"b":9,"k":0.479,"f":19.8},{"b":9,"k":0.567,"f":21.7},{"b":9,"k":0.655,"f":18.6},{"b":9,"k":0.757,"f":21.5},{"b":9,"k":0.858,"f":23.4},{"b":9,"k":0.93,"f":22},{"b":9,"k":1,"f":21.3},
{"b":10,"k":0,"f":27},{"b":10,"k":0.07,"f":26.5},{"b":10,"k":0.141,"f":20.6},{"b":10,"k":0.24,"f":22.8},{"b":10,"k":0.337,"f":20.3},{"b":10,"k":0.408,"f":21.6},{"b":10,"k":0.479,"f":22.3},{"b":10,"k":0.567,"f":21.2},{"b":10,"k":0.655,"f":21.9},{"b":10,"k":0.757,"f":22.8},{"b":10,"k":0.858,"f":20.6},{"b":10,"k":0.93,"f":21},{"b":10,"k":1,"f":17},
{"b":11,"k":0,"f":23.6},{"b":11,"k":0.07,"f":23.6},{"b":11,"k":0.141,"f":23.4},{"b":11,"k":0.24,"f":25.3},{"b":11,"k":0.337,"f":23.2},{"b":11,"k":0.408,"f":21.6},{"b":11,"k":0.479,"f":24.8},{"b":11,"k":0.567,"f":24.3},{"b":11,"k":0.655,"f":23.2},{"b":11,"k":0.757,"f":25.5},{"b":11,"k":0.858,"f":23.4},{"b":11,"k":0.93,"f":24.5},{"b":11,"k":1,"f":24},
{"b":12,"k":0,"f":27},{"b":12,"k":0.07,"f":24.7},{"b":12,"k":0.141,"f":27.6},{"b":12,"k":0.24,"f":25.5},{"b":12,"k":0.337,"f":23.6},{"b":12,"k":0.408,"f":23.5},{"b":12,"k":0.479,"f":26},{"b":12,"k":0.567,"f":25.8},{"b":12,"k":0.655,"f":26.5},{"b":12,"k":0.757,"f":25},{"b":12,"k":0.858,"f":27.6},{"b":12,"k":0.93,"f":26},{"b":12,"k":1,"f":25.5},
{"b":13,"k":0,"f":28.9},{"b":13,"k":0.07,"f":27.8},{"b":13,"k":0.141,"f":28.3},{"b":13,"k":0.24,"f":26},{"b":13,"k":0.337,"f":26.5},{"b":13,"k":0.408,"f":26.2},{"b":13,"k":0.479,"f":28.6},{"b":13,"k":0.567,"f":26.4},{"b":13,"k":0.655,"f":27.2},{"b":13,"k":0.757,"f":28},{"b":13,"k":0.858,"f":28.3},{"b":13,"k":0.93,"f":27},{"b":13,"k":1,"f":27.6},
{"b":14,"k":0,"f":30.8},{"b":14,"k":0.07,"f":30.5},{"b":14,"k":0.141,"f":30},{"b":14,"k":0.24,"f":28.2},{"b":14,"k":0.337,"f":28},{"b":14,"k":0.408,"f":27},{"b":14,"k":0.479,"f":30},{"b":14,"k":0.567,"f":28.5},{"b":14,"k":0.655,"f":29},{"b":14,"k":0.757,"f":29.3},{"b":14,"k":0.858,"f":30},{"b":14,"k":0.93,"f":28.8},{"b":14,"k":1,"f":28.5},
{"b":15,"k":0,"f":57.3},{"b":15,"k":0.07,"f":57.7},{"b":15,"k":0.141,"f":57.5},{"b":15,"k":0.24,"f":56.5},{"b":15,"k":0.337,"f":56},{"b":15,"k":0.408,"f":55.8},{"b":15,"k":0.479,"f":56},{"b":15,"k":0.567,"f":56.1},{"b":15,"k":0.655,"f":55.8},{"b":15,"k":0.757,"f":56.5},{"b":15,"k":0.858,"f":57.5},{"b":15,"k":0.93,"f":56},{"b":15,"k":1,"f":56.4},
{"b":16,"k":0,"f":56.4},{"b":16,"k":0.07,"f":57},{"b":16,"k":0.141,"f":55.5},{"b":16,"k":0.24,"f":55.8},{"b":16,"k":0.337,"f":54.8},{"b":16,"k":0.408,"f":55.5},{"b":16,"k":0.479,"f":55},{"b":16,"k":0.567,"f":55},{"b":16,"k":0.655,"f":54.3},{"b":16,"k":0.757,"f":55},{"b":16,"k":0.858,"f":55.5},{"b":16,"k":0.93,"f":55.2},{"b":16,"k":1,"f":54.6},
{"b":17,"k":0,"f":54.5},{"b":17,"k":0.07,"f":54.4},{"b":17,"k":0.141,"f":54.5},{"b":17,"k":0.24,"f":54.3},{"b":17,"k":0.337,"f":54.4},{"b":17,"k":0.408,"f":54.2},{"b":17,"k":0.479,"f":54.3},{"b":17,"k":0.567,"f":54.3},{"b":17,"k":0.655,"f":54.3},{"b":17,"k":0.757,"f":54.2},{"b":17,"k":0.858,"f":54.5},{"b":17,"k":0.93,"f":54.3},{"b":17,"k":1,"f":53.5},
{"b":18,"k":0,"f":53.6},{"b":18,"k":0.07,"f":53.5},{"b":18,"k":0.141,"f":53.3},{"b":18,"k":0.24,"f":52.8},{"b":18,"k":0.337,"f":52.2},{"b":18,"k":0.408,"f":52.4},{"b":18,"k":0.479,"f":52},{"b":18,"k":0.567,"f":52.4},{"b":18,"k":0.655,"f":52.3},{"b":18,"k":0.757,"f":53},{"b":18,"k":0.858,"f":53.3},{"b":18,"k":0.93,"f":53.3},{"b":18,"k":1,"f":52.8},
{"b":19,"k":0,"f":53.3},{"b":19,"k":0.07,"f":53.3},{"b":19,"k":0.141,"f":53},{"b":19,"k":0.24,"f":52.3},{"b":19,"k":0.337,"f":51.8},{"b":19,"k":0.408,"f":51.8},{"b":19,"k":0.479,"f":51.6},{"b":19,"k":0.567,"f":51.8},{"b":19,"k":0.655,"f":51.7},{"b":19,"k":0.757,"f":52.5},{"b":19,"k":0.858,"f":53},{"b":19,"k":0.93,"f":52.8},{"b":19,"k":1,"f":52.3},
{"b":20,"k":0,"f":52.2},{"b":20,"k":0.07,"f":52},{"b":20,"k":0.141,"f":52.2},{"b":20,"k":0.24,"f":51.8},{"b":20,"k":0.337,"f":51.4},{"b":20,"k":0.408,"f":51.2},{"b":20,"k":0.479,"f":51.2},{"b":20,"k":0.567,"f":51.3},{"b":20,"k":0.655,"f":50.5},{"b":20,"k":0.757,"f":51.5},{"b":20,"k":0.858,"f":52},{"b":20,"k":0.93,"f":51.8},{"b":20,"k":1,"f":51.2},
{"b":21,"k":0,"f":51.9},{"b":21,"k":0.07,"f":51.4},{"b":21,"k":0.141,"f":51},{"b":21,"k":0.24,"f":50.5},{"b":21,"k":0.337,"f":50.3},{"b":21,"k":0.408,"f":50.2},{"b":21,"k":0.479,"f":50},{"b":21,"k":0.567,"f":50.3},{"b":21,"k":0.655,"f":49.8},{"b":21,"k":0.757,"f":50.8},{"b":21,"k":0.858,"f":51},{"b":21,"k":0.93,"f":50.5},{"b":21,"k":1,"f":50},
{"b":22,"k":0,"f":50.2},{"b":22,"k":0.07,"f":51.4},{"b":22,"k":0.141,"f":47},{"b":22,"k":0.24,"f":49.5},{"b":22,"k":0.337,"f":49.6},{"b":22,"k":0.408,"f":49.3},{"b":22,"k":0.479,"f":49},{"b":22,"k":0.567,"f":49.3},{"b":22,"k":0.655,"f":49.3},{"b":22,"k":0.757,"f":49.8},{"b":22,"k":0.858,"f":50.5},{"b":22,"k":0.93,"f":49.5},{"b":22,"k":1,"f":49},
{"b":23,"k":0,"f":47.2},{"b":23,"k":0.07,"f":49.5},{"b":23,"k":0.141,"f":46.5},{"b":23,"k":0.24,"f":48.5},{"b":23,"k":0.337,"f":48.8},{"b":23,"k":0.408,"f":48.5},{"b":23,"k":0.479,"f":48.4},{"b":23,"k":0.567,"f":48.6},{"b":23,"k":0.655,"f":48.5},{"b":23,"k":0.757,"f":48.5},{"b":23,"k":0.858,"f":47.5},{"b":23,"k":0.93,"f":48.5},{"b":23,"k":1,"f":48.5},
{"b":24,"k":0,"f":46.6},{"b":24,"k":0.07,"f":47},{"b":24,"k":0.141,"f":47.5},{"b":24,"k":0.24,"f":47.5},{"b":24,"k":0.337,"f":47.3},{"b":24,"k":0.408,"f":47.5},{"b":24,"k":0.479,"f":47.3},{"b":24,"k":0.567,"f":47.8},{"b":24,"k":0.655,"f":47.4},{"b":24,"k":0.757,"f":47.3},{"b":24,"k":0.858,"f":46.6},{"b":24,"k":0.93,"f":47.3},{"b":24,"k":1,"f":47},
{"b":25,"k":0,"f":46.2},{"b":25,"k":0.07,"f":45.2},{"b":25,"k":0.141,"f":46},{"b":25,"k":0.24,"f":46.5},{"b":25,"k":0.337,"f":46.8},{"b":25,"k":0.408,"f":46.6},{"b":25,"k":0.479,"f":46.5},{"b":25,"k":0.567,"f":46.6},{"b":25,"k":0.655,"f":47},{"b":25,"k":0.757,"f":46.5},{"b":25,"k":0.858,"f":46},{"b":25,"k":0.93,"f":46.5},{"b":25,"k":1,"f":46.5},
{"b":26,"k":0,"f":45.5},{"b":26,"k":0.07,"f":45.5},{"b":26,"k":0.141,"f":45},{"b":26,"k":0.24,"f":45.8},{"b":26,"k":0.337,"f":46.1},{"b":26,"k":0.408,"f":46},{"b":26,"k":0.479,"f":45.6},{"b":26,"k":0.567,"f":46},{"b":26,"k":0.655,"f":46},{"b":26,"k":0.757,"f":45.7},{"b":26,"k":0.858,"f":45},{"b":26,"k":0.93,"f":45.8},{"b":26,"k":1,"f":46},
{"b":27,"k":0,"f":45},{"b":27,"k":0.07,"f":44.6},{"b":27,"k":0.141,"f":44},{"b":27,"k":0.24,"f":45},{"b":27,"k":0.337,"f":45.4},{"b":27,"k":0.408,"f":45.2},{"b":27,"k":0.479,"f":45.2},{"b":27,"k":0.567,"f":45},{"b":27,"k":0.655,"f":45},{"b":27,"k":0.757,"f":44.6},{"b":27,"k":0.858,"f":44},{"b":27,"k":0.93,"f":44.8},{"b":27,"k":1,"f":45},
{"b":28,"k":0,"f":43.5},{"b":28,"k":0.07,"f":43.4},{"b":28,"k":0.141,"f":43.4},{"b":28,"k":0.24,"f":44},{"b":28,"k":0.337,"f":44.7},{"b":28,"k":0.408,"f":44.3},{"b":28,"k":0.479,"f":44.6},{"b":28,"k":0.567,"f":44.3},{"b":28,"k":0.655,"f":44},{"b":28,"k":0.757,"f":43.8},{"b":28,"k":0.858,"f":43.3},{"b":28,"k":0.93,"f":43.5},{"b":28,"k":1,"f":43.9},
{"b":29,"k":0,"f":41},{"b":29,"k":0.07,"f":41.6},{"b":29,"k":0.141,"f":42.1},{"b":29,"k":0.24,"f":41.5},{"b":29,"k":0.337,"f":43},{"b":29,"k":0.408,"f":42.7},{"b":29,"k":0.479,"f":43.5},{"b":29,"k":0.567,"f":43},{"b":29,"k":0.655,"f":43.5},{"b":29,"k":0.757,"f":42.5},{"b":29,"k":0.858,"f":42.1},{"b":29,"k":0.93,"f":42.3},{"b":29,"k":1,"f":43},
{"b":30,"k":0,"f":40.4},{"b":30,"k":0.07,"f":38.3},{"b":30,"k":0.141,"f":40},{"b":30,"k":0.24,"f":41},{"b":30,"k":0.337,"f":42.5},{"b":30,"k":0.408,"f":42},{"b":30,"k":0.479,"f":42.6},{"b":30,"k":0.567,"f":42},{"b":30,"k":0.655,"f":42.5},{"b":30,"k":0.757,"f":41.5},{"b":30,"k":0.858,"f":40},{"b":30,"k":0.93,"f":40.5},{"b":30,"k":1,"f":41.5},
{"b":31,"k":0,"f":39.4},{"b":31,"k":0.07,"f":39.5},{"b":31,"k":0.141,"f":39.7},{"b":31,"k":0.24,"f":40},{"b":31,"k":0.337,"f":41.3},{"b":31,"k":0.408,"f":41},{"b":31,"k":0.479,"f":42},{"b":31,"k":0.567,"f":41.2},{"b":31,"k":0.655,"f":41.5},{"b":31,"k":0.757,"f":40.5},{"b":31,"k":0.858,"f":39.7},{"b":31,"k":0.93,"f":40},{"b":31,"k":1,"f":41},
{"b":32,"k":0,"f":37.3},{"b":32,"k":0.07,"f":37.5},{"b":32,"k":0.141,"f":36.8},{"b":32,"k":0.24,"f":38.5},{"b":32,"k":0.337,"f":40.3},{"b":32,"k":0.408,"f":40.5},{"b":32,"k":0.479,"f":41},{"b":32,"k":0.567,"f":40},{"b":32,"k":0.655,"f":40.5},{"b":32,"k":0.757,"f":39.5},{"b":32,"k":0.858,"f":35},{"b":32,"k":0.93,"f":38},{"b":32,"k":1,"f":39.5},
{"b":33,"k":0,"f":36.5},{"b":33,"k":0.07,"f":36.4},{"b":33,"k":0.141,"f":35},{"b":33,"k":0.24,"f":37},{"b":33,"k":0.337,"f":39.8},{"b":33,"k":0.408,"f":39.8},{"b":33,"k":0.479,"f":40.3},{"b":33,"k":0.567,"f":39.5},{"b":33,"k":0.655,"f":40},{"b":33,"k":0.757,"f":38.5},{"b":33,"k":0.858,"f":35},{"b":33,"k":0.93,"f":36.8},{"b":33,"k":1,"f":38.8},
{"b":34,"k":0,"f":34.5},{"b":34,"k":0.07,"f":34.2},{"b":34,"k":0.141,"f":34.8},{"b":34,"k":0.24,"f":36},{"b":34,"k":0.337,"f":39.5},{"b":34,"k":0.408,"f":39.3},{"b":34,"k":0.479,"f":39.5},{"b":34,"k":0.567,"f":39},{"b":34,"k":0.655,"f":39},{"b":34,"k":0.757,"f":37},{"b":34,"k":0.858,"f":34.8},{"b":34,"k":0.93,"f":36},{"b":34,"k":1,"f":38},
{"b":35,"k":0,"f":34.2},{"b":35,"k":0.07,"f":34.3},{"b":35,"k":0.141,"f":33.3},{"b":35,"k":0.24,"f":35},{"b":35,"k":0.337,"f":38},{"b":35,"k":0.408,"f":38},{"b":35,"k":0.479,"f":38.6},{"b":35,"k":0.567,"f":38.3},{"b":35,"k":0.655,"f":38.5},{"b":35,"k":0.757,"f":36},{"b":35,"k":0.858,"f":33.3},{"b":35,"k":0.93,"f":35},{"b":35,"k":1,"f":36.5},
{"b":36,"k":0,"f":33.5},{"b":36,"k":0.07,"f":33},{"b":36,"k":0.141,"f":33},{"b":36,"k":0.24,"f":34.5},{"b":36,"k":0.337,"f":37},{"b":36,"k":0.408,"f":37.5},{"b":36,"k":0.479,"f":37.3},{"b":36,"k":0.567,"f":37.2},{"b":36,"k":0.655,"f":37},{"b":36,"k":0.757,"f":35.5},{"b":36,"k":0.858,"f":33},{"b":36,"k":0.93,"f":34},{"b":36,"k":1,"f":35},
{"b":37,"k":0,"f":33},{"b":37,"k":0.07,"f":32},{"b":37,"k":0.141,"f":32.6},{"b":37,"k":0.24,"f":33.5},{"b":37,"k":0.337,"f":36},{"b":37,"k":0.408,"f":36},{"b":37,"k":0.479,"f":36.5},{"b":37,"k":0.567,"f":36.2},{"b":37,"k":0.655,"f":36.4},{"b":37,"k":0.757,"f":34.8},{"b":37,"k":0.858,"f":32.6},{"b":37,"k":0.93,"f":33.5},{"b":37,"k":1,"f":34},
{"b":38,"k":0,"f":31.3},{"b":38,"k":0.07,"f":31.5},{"b":38,"k":0.141,"f":32.2},{"b":38,"k":0.24,"f":33},{"b":38,"k":0.337,"f":35.3},{"b":38,"k":0.408,"f":35.6},{"b":38,"k":0.479,"f":35.6},{"b":38,"k":0.567,"f":35.5},{"b":38,"k":0.655,"f":35.3},{"b":38,"k":0.757,"f":34},{"b":38,"k":0.858,"f":32.2},{"b":38,"k":0.93,"f":32.5},{"b":38,"k":1,"f":33},
{"b":39,"k":0,"f":30.8},{"b":39,"k":0.07,"f":29.9},{"b":39,"k":0.141,"f":30},{"b":39,"k":0.24,"f":32.5},{"b":39,"k":0.337,"f":34.5},{"b":39,"k":0.408,"f":34.6},{"b":39,"k":0.479,"f":34.5},{"b":39,"k":0.567,"f":34.5},{"b":39,"k":0.655,"f":34.7},{"b":39,"k":0.757,"f":33.5},{"b":39,"k":0.858,"f":32},{"b":39,"k":0.93,"f":32},{"b":39,"k":1,"f":32},
{"b":40,"k":0,"f":29.5},{"b":40,"k":0.07,"f":30.5},{"b":40,"k":0.141,"f":32.5},{"b":40,"k":0.24,"f":32},{"b":40,"k":0.337,"f":33},{"b":40,"k":0.408,"f":33.5},{"b":40,"k":0.479,"f":33.5},{"b":40,"k":0.567,"f":33.2},{"b":40,"k":0.655,"f":33.6},{"b":40,"k":0.757,"f":32.8},{"b":40,"k":0.858,"f":30},{"b":40,"k":0.93,"f":31.6},{"b":40,"k":1,"f":31.5},
{"b":41,"k":0,"f":28.9},{"b":41,"k":0.07,"f":29},{"b":41,"k":0.141,"f":28.3},{"b":41,"k":0.24,"f":30.5},{"b":41,"k":0.337,"f":32.5},{"b":41,"k":0.408,"f":32.6},{"b":41,"k":0.479,"f":32.3},{"b":41,"k":0.567,"f":32.5},{"b":41,"k":0.655,"f":32.8},{"b":41,"k":0.757,"f":31.5},{"b":41,"k":0.858,"f":28.3},{"b":41,"k":0.93,"f":28.5},{"b":41,"k":1,"f":29.2},
{"b":42,"k":0,"f":36},{"b":42,"k":0.07,"f":37.5},{"b":42,"k":0.141,"f":40},{"b":42,"k":0.24,"f":39.5},{"b":42,"k":0.337,"f":39.6},{"b":42,"k":0.408,"f":40},{"b":42,"k":0.479,"f":39.6},{"b":42,"k":0.567,"f":39.8},{"b":42,"k":0.655,"f":39.6},{"b":42,"k":0.757,"f":39.8},{"b":42,"k":0.858,"f":39.7},{"b":42,"k":0.93,"f":39.8},{"b":42,"k":1,"f":40},
{"b":43,"k":0,"f":44},{"b":43,"k":0.07,"f":44},{"b":43,"k":0.141,"f":44.8},{"b":43,"k":0.24,"f":44.5},{"b":43,"k":0.337,"f":44},{"b":43,"k":0.408,"f":43.8},{"b":43,"k":0.479,"f":43.8},{"b":43,"k":0.567,"f":43.9},{"b":43,"k":0.655,"f":44.4},{"b":43,"k":0.757,"f":44.5},{"b":43,"k":0.858,"f":44.8},{"b":43,"k":0.93,"f":44.6},{"b":43,"k":1,"f":44.5},
{"b":44,"k":0,"f":47.5},{"b":44,"k":0.07,"f":47},{"b":44,"k":0.141,"f":46.5},{"b":44,"k":0.24,"f":47},{"b":44,"k":0.337,"f":46.5},{"b":44,"k":0.408,"f":46.5},{"b":44,"k":0.479,"f":46.5},{"b":44,"k":0.567,"f":47},{"b":44,"k":0.655,"f":47},{"b":44,"k":0.757,"f":47},{"b":44,"k":0.858,"f":47.5},{"b":44,"k":0.93,"f":46.8},{"b":44,"k":1,"f":46.6}
],
"da":[
{"s":"total","x":0,"f":1},{"s":"total","x":0.002,"f":2.5},{"s":"total","x":0.006,"f":3.6},{"s":"total","x":0.016,"f":4.5},{"s":"total","x":0.035,"f":5},{"s":"total","x":0.045,"f":5.2},{"s":"total","x":0.022,"f":5.5},{"s":"total","x":0.02,"f":6},{"s":"total","x":0.018,"f":6.6},{"s":"total","x":0.034,"f":7},{"s":"total","x":0.016,"f":7.4},{"s":"total","x":0.021,"f":8},{"s":"total","x":0.024,"f":8.6},{"s":"total","x":0.03,"f":9},{"s":"total","x":0.04,"f":9.3},{"s":"total","x":0.028,"f":9.6},{"s":"total","x":0.025,"f":10.2},{"s":"total","x":0.004,"f":10.6},{"s":"total","x":0,"f":10.8},
{"s":"Y","x":0,"f":1},{"s":"Y","x":0.004,"f":3},{"s":"Y","x":0.008,"f":4.2},{"s":"Y","x":0.016,"f":4.9},{"s":"Y","x":0.007,"f":5.4},{"s":"Y","x":0.008,"f":6},{"s":"Y","x":0.009,"f":6.6},{"s":"Y","x":0.016,"f":7.4},{"s":"Y","x":0.011,"f":8.2},{"s":"Y","x":0.02,"f":8.8},{"s":"Y","x":0.033,"f":9.5},{"s":"Y","x":0.03,"f":9.8},{"s":"Y","x":0.022,"f":10.2},{"s":"Y","x":0.01,"f":10.5},{"s":"Y","x":0,"f":10.7},
{"s":"Th","x":0,"f":1},{"s":"Th","x":0.005,"f":3},{"s":"Th","x":0.009,"f":3.9},{"s":"Th","x":0.018,"f":4.7},{"s":"Th","x":0.033,"f":5.2},{"s":"Th","x":0.02,"f":5.6},{"s":"Th","x":0.011,"f":6},{"s":"Th","x":0.016,"f":6.5},{"s":"Th","x":0.02,"f":7},{"s":"Th","x":0.007,"f":7.7},{"s":"Th","x":0.006,"f":8.4},{"s":"Th","x":0.004,"f":8.9},{"s":"Th","x":0.009,"f":9.5},{"s":"Th","x":0.006,"f":10},{"s":"Th","x":0.002,"f":10.4},{"s":"Th","x":0,"f":10.7},
{"s":"H","x":0,"f":31.8},{"s":"H","x":0.001,"f":33},{"s":"H","x":0.002,"f":34.1},{"s":"H","x":0.005,"f":35},{"s":"H","x":0.007,"f":35.9},{"s":"H","x":0.013,"f":36.2},{"s":"H","x":0.009,"f":36.6},{"s":"H","x":0.006,"f":37.1},{"s":"H","x":0.02,"f":38},{"s":"H","x":0.033,"f":38.8},{"s":"H","x":0.028,"f":39.2},{"s":"H","x":0.051,"f":39.5},{"s":"H","x":0.03,"f":39.8},{"s":"H","x":0.035,"f":40.3},{"s":"H","x":0.025,"f":40.8},{"s":"H","x":0.022,"f":41.2},{"s":"H","x":0.002,"f":41.8},{"s":"H","x":0.02,"f":42.1},{"s":"H","x":0.04,"f":42.3},{"s":"H","x":0.035,"f":42.7},{"s":"H","x":0.067,"f":43.2},{"s":"H","x":0.05,"f":43.6},{"s":"H","x":0.09,"f":44},{"s":"H","x":0.11,"f":44.2},{"s":"H","x":0.07,"f":44.5},{"s":"H","x":0.096,"f":44.7},{"s":"H","x":0.05,"f":45},{"s":"H","x":0.027,"f":45.3},{"s":"H","x":0.04,"f":45.6},{"s":"H","x":0.062,"f":45.9},{"s":"H","x":0.035,"f":46.3},{"s":"H","x":0.027,"f":46.7},{"s":"H","x":0.045,"f":47.2},{"s":"H","x":0.04,"f":47.6},{"s":"H","x":0.03,"f":48.2},{"s":"H","x":0.016,"f":48.8},{"s":"H","x":0.025,"f":49.5},{"s":"H","x":0.035,"f":50.3},{"s":"H","x":0.018,"f":50.6},{"s":"H","x":0.05,"f":51.1},{"s":"H","x":0.082,"f":51.7},{"s":"H","x":0.04,"f":52},{"s":"H","x":0.02,"f":52.3},{"s":"H","x":0.04,"f":52.8},{"s":"H","x":0.058,"f":53.2},{"s":"H","x":0.02,"f":53.5},{"s":"H","x":0,"f":53.7},{"s":"H","x":0,"f":56.2},{"s":"H","x":0.013,"f":56.6},{"s":"H","x":0.025,"f":57},{"s":"H","x":0.036,"f":57.6},{"s":"H","x":0.045,"f":58},{"s":"H","x":0.04,"f":58.5},{"s":"H","x":0.053,"f":58.8},{"s":"H","x":0.071,"f":59.1},{"s":"H","x":0.06,"f":59.4},{"s":"H","x":0.049,"f":59.6},{"s":"H","x":0.01,"f":59.9},{"s":"H","x":0,"f":60.2}
],
"db":[
{"s":"total","x":0,"f":1},{"s":"total","x":0.002,"f":2.5},{"s":"total","x":0.006,"f":3.6},{"s":"total","x":0.011,"f":4.2},{"s":"total","x":0.02,"f":4.6},{"s":"total","x":0.032,"f":4.9},{"s":"total","x":0.08,"f":5},{"s":"total","x":0.07,"f":5.2},{"s":"total","x":0.035,"f":5.5},{"s":"total","x":0.03,"f":6},{"s":"total","x":0.04,"f":6.6},{"s":"total","x":0.063,"f":7},{"s":"total","x":0.04,"f":7.4},{"s":"total","x":0.033,"f":8},{"s":"total","x":0.089,"f":8.6},{"s":"total","x":0.04,"f":8.9},{"s":"total","x":0.03,"f":9.2},{"s":"total","x":0.05,"f":9.7},{"s":"total","x":0.1,"f":10.2},{"s":"total","x":0.03,"f":10.5},{"s":"total","x":0,"f":10.8},
{"s":"Y","x":0,"f":1},{"s":"Y","x":0.006,"f":3.6},{"s":"Y","x":0.017,"f":4.7},{"s":"Y","x":0.022,"f":5.2},{"s":"Y","x":0.026,"f":5.7},{"s":"Y","x":0.035,"f":6.3},{"s":"Y","x":0.03,"f":6.8},{"s":"Y","x":0.039,"f":7.3},{"s":"Y","x":0.017,"f":7.7},{"s":"Y","x":0.059,"f":8.6},{"s":"Y","x":0.02,"f":9.2},{"s":"Y","x":0.04,"f":9.8},{"s":"Y","x":0.1,"f":10.2},{"s":"Y","x":0.02,"f":10.6},{"s":"Y","x":0,"f":10.8},
{"s":"Th","x":0,"f":1},{"s":"Th","x":0.011,"f":4.5},{"s":"Th","x":0.03,"f":5},{"s":"Th","x":0.053,"f":5.3},{"s":"Th","x":0.011,"f":5.5},{"s":"Th","x":0.012,"f":6},{"s":"Th","x":0.013,"f":6.6},{"s":"Th","x":0.01,"f":7.2},{"s":"Th","x":0.004,"f":7.7},{"s":"Th","x":0.028,"f":8.3},{"s":"Th","x":0.006,"f":8.9},{"s":"Th","x":0.028,"f":9.8},{"s":"Th","x":0.002,"f":10.4},{"s":"Th","x":0,"f":10.7},
{"s":"H","x":0,"f":32.4},{"s":"H","x":0.011,"f":33},{"s":"H","x":0.02,"f":33.6},{"s":"H","x":0.028,"f":34.1},{"s":"H","x":0.015,"f":34.7},{"s":"H","x":0.011,"f":35.3},{"s":"H","x":0.018,"f":36},{"s":"H","x":0.02,"f":36.8},{"s":"H","x":0.028,"f":37.1},{"s":"H","x":0.04,"f":37.7},{"s":"H","x":0.065,"f":38.2},{"s":"H","x":0.045,"f":38.8},{"s":"H","x":0.039,"f":39.4},{"s":"H","x":0.076,"f":40},{"s":"H","x":0.05,"f":40.6},{"s":"H","x":0.039,"f":41.2},{"s":"H","x":0.035,"f":41.7},{"s":"H","x":0.019,"f":42.1},{"s":"H","x":0.06,"f":42.6},{"s":"H","x":0.08,"f":43.2},{"s":"H","x":0.12,"f":43.8},{"s":"H","x":0.07,"f":44.2},{"s":"H","x":0.048,"f":44.7},{"s":"H","x":0.076,"f":45.3},{"s":"H","x":0.037,"f":45.6},{"s":"H","x":0.06,"f":46.3},{"s":"H","x":0.089,"f":47},{"s":"H","x":0.05,"f":47.5},{"s":"H","x":0.057,"f":47.9},{"s":"H","x":0.04,"f":48.5},{"s":"H","x":0.031,"f":49.1},{"s":"H","x":0.05,"f":49.7},{"s":"H","x":0.067,"f":50.3},{"s":"H","x":0.05,"f":50.7},{"s":"H","x":0.108,"f":51.1},{"s":"H","x":0.043,"f":51.7},{"s":"H","x":0.02,"f":52.2},{"s":"H","x":0.006,"f":52.6},{"s":"H","x":0.054,"f":53.2},{"s":"H","x":0.02,"f":53.5},{"s":"H","x":0,"f":53.8},{"s":"H","x":0,"f":55.3},{"s":"H","x":0.015,"f":56},{"s":"H","x":0.03,"f":56.6},{"s":"H","x":0.039,"f":57},{"s":"H","x":0.093,"f":57.6},{"s":"H","x":0.04,"f":58},{"s":"H","x":0.033,"f":58.5},{"s":"H","x":0.06,"f":58.9},{"s":"H","x":0.113,"f":59.2},{"s":"H","x":0.05,"f":59.6},{"s":"H","x":0.02,"f":59.9},{"s":"H","x":0,"f":60.2}
],
"dc":[
{"s":"total","x":0,"f":1.7},{"s":"total","x":0.006,"f":3.3},{"s":"total","x":0.032,"f":4.3},{"s":"total","x":0.06,"f":4.8},{"s":"total","x":0.135,"f":5.1},{"s":"total","x":0.051,"f":5.4},{"s":"total","x":0.07,"f":5.8},{"s":"total","x":0.09,"f":6.1},{"s":"total","x":0.146,"f":6.4},{"s":"total","x":0.082,"f":6.7},{"s":"total","x":0.093,"f":7.2},{"s":"total","x":0.04,"f":7.6},{"s":"total","x":0.036,"f":8.5},{"s":"total","x":0.006,"f":9},{"s":"total","x":0,"f":9.2},
{"s":"Y","x":0,"f":1.7},{"s":"Y","x":0.013,"f":3.8},{"s":"Y","x":0.032,"f":4.7},{"s":"Y","x":0.04,"f":5.2},{"s":"Y","x":0.02,"f":5.6},{"s":"Y","x":0.01,"f":5.9},{"s":"Y","x":0.086,"f":6.1},{"s":"Y","x":0.105,"f":6.4},{"s":"Y","x":0.04,"f":6.8},{"s":"Y","x":0.032,"f":7.3},{"s":"Y","x":0.021,"f":8.2},{"s":"Y","x":0.006,"f":9},{"s":"Y","x":0,"f":9.2},
{"s":"Th","x":0,"f":1.7},{"s":"Th","x":0.017,"f":3.8},{"s":"Th","x":0.04,"f":4.6},{"s":"Th","x":0.097,"f":5.1},{"s":"Th","x":0.03,"f":5.4},{"s":"Th","x":0.013,"f":5.6},{"s":"Th","x":0.03,"f":6},{"s":"Th","x":0.051,"f":6.3},{"s":"Th","x":0.02,"f":6.8},{"s":"Th","x":0.01,"f":7.2},{"s":"Th","x":0.004,"f":8.5},{"s":"Th","x":0,"f":9.1},
{"s":"H","x":0,"f":10.5},{"s":"H","x":0.002,"f":12},{"s":"H","x":0.006,"f":13},{"s":"H","x":0.008,"f":14},{"s":"H","x":0.01,"f":15.5},{"s":"H","x":0.01,"f":16.9},{"s":"H","x":0.03,"f":17.6},{"s":"H","x":0.036,"f":18.2},{"s":"H","x":0.015,"f":18.8},{"s":"H","x":0.01,"f":19.5},{"s":"H","x":0.013,"f":20.6},{"s":"H","x":0.02,"f":21.5},{"s":"H","x":0.014,"f":22.5},{"s":"H","x":0.032,"f":23.7},{"s":"H","x":0.015,"f":24.5},{"s":"H","x":0.026,"f":25.3},{"s":"H","x":0.013,"f":26.3},{"s":"H","x":0.02,"f":27.2},{"s":"H","x":0.015,"f":28},{"s":"H","x":0.04,"f":28.7},{"s":"H","x":0.015,"f":29.5},{"s":"H","x":0.01,"f":30.3},{"s":"H","x":0.01,"f":31.1},{"s":"H","x":0.03,"f":31.8},{"s":"H","x":0.044,"f":32.6},{"s":"H","x":0.06,"f":33.3},{"s":"H","x":0.078,"f":34.2},{"s":"H","x":0.05,"f":35},{"s":"H","x":0.032,"f":35.8},{"s":"H","x":0.07,"f":36.6},{"s":"H","x":0.063,"f":37.4},{"s":"H","x":0.05,"f":38},{"s":"H","x":0.029,"f":38.4},{"s":"H","x":0.06,"f":39.2},{"s":"H","x":0.075,"f":40},{"s":"H","x":0.101,"f":41},{"s":"H","x":0.05,"f":41.6},{"s":"H","x":0.013,"f":42.3},{"s":"H","x":0.127,"f":43.1},{"s":"H","x":0.021,"f":43.7},{"s":"H","x":0.09,"f":44.3},{"s":"H","x":0.131,"f":44.8},{"s":"H","x":0.06,"f":45.3},{"s":"H","x":0.044,"f":45.8},{"s":"H","x":0.169,"f":46.5},{"s":"H","x":0.08,"f":47},{"s":"H","x":0.1,"f":47.5},{"s":"H","x":0.127,"f":48},{"s":"H","x":0.036,"f":48.5},{"s":"H","x":0.09,"f":49.2},{"s":"H","x":0.108,"f":49.7},{"s":"H","x":0.06,"f":50.4},{"s":"H","x":0.044,"f":51},{"s":"H","x":0.08,"f":51.8},{"s":"H","x":0.124,"f":52.6},{"s":"H","x":0.06,"f":53.2},{"s":"H","x":0.051,"f":53.6},{"s":"H","x":0.013,"f":53.9},{"s":"H","x":0.082,"f":54.4},{"s":"H","x":0.03,"f":55},{"s":"H","x":0.017,"f":55.5},{"s":"H","x":0.05,"f":56},{"s":"H","x":0.082,"f":56.5},{"s":"H","x":0.006,"f":56.8},{"s":"H","x":0.01,"f":57.3},{"s":"H","x":0,"f":57.8}
],
"ea":[
{"s":"a2F","x":0.01,"f":3},{"s":"a2F","x":0.02,"f":3.6},{"s":"a2F","x":0.03,"f":4.2},{"s":"a2F","x":0.045,"f":4.8},{"s":"a2F","x":0.04,"f":5.3},{"s":"a2F","x":0.06,"f":5.6},{"s":"a2F","x":0.075,"f":6},{"s":"a2F","x":0.05,"f":6.5},{"s":"a2F","x":0.09,"f":7},{"s":"a2F","x":0.15,"f":7.3},{"s":"a2F","x":0.07,"f":7.6},{"s":"a2F","x":0.09,"f":8},{"s":"a2F","x":0.06,"f":8.6},{"s":"a2F","x":0.08,"f":9},{"s":"a2F","x":0.15,"f":9.3},{"s":"a2F","x":0.05,"f":9.6},{"s":"a2F","x":0.06,"f":10.1},{"s":"a2F","x":0.008,"f":10.8},
{"s":"a2F","x":0.008,"f":31},{"s":"a2F","x":0.69,"f":31.3},{"s":"a2F","x":0.01,"f":31.6},{"s":"a2F","x":0.01,"f":32.5},{"s":"a2F","x":0.015,"f":33},{"s":"a2F","x":0.12,"f":33.7},{"s":"a2F","x":0.01,"f":34.2},{"s":"a2F","x":0.008,"f":34.7},{"s":"a2F","x":0.46,"f":35},{"s":"a2F","x":0.01,"f":35.4},{"s":"a2F","x":0.05,"f":36},{"s":"a2F","x":0.075,"f":36.8},{"s":"a2F","x":0.68,"f":37.1},{"s":"a2F","x":0.1,"f":37.5},{"s":"a2F","x":0.1,"f":37.9},{"s":"a2F","x":0.5,"f":38.3},{"s":"a2F","x":0.84,"f":38.9},{"s":"a2F","x":0.4,"f":39.3},{"s":"a2F","x":0.3,"f":39.6},{"s":"a2F","x":0.57,"f":40.1},{"s":"a2F","x":0.2,"f":40.6},{"s":"a2F","x":0.25,"f":41.2},{"s":"a2F","x":0.17,"f":41.8},{"s":"a2F","x":0.3,"f":42.5},{"s":"a2F","x":0.2,"f":43.2},{"s":"a2F","x":0.63,"f":44.1},{"s":"a2F","x":0.25,"f":44.6},{"s":"a2F","x":0.3,"f":45},{"s":"a2F","x":0.2,"f":45.5},{"s":"a2F","x":0.38,"f":45.9},{"s":"a2F","x":0.25,"f":46.5},{"s":"a2F","x":0.19,"f":47},{"s":"a2F","x":0.3,"f":47.6},{"s":"a2F","x":0.48,"f":48.3},{"s":"a2F","x":0.2,"f":48.8},{"s":"a2F","x":0.18,"f":49.4},{"s":"a2F","x":0.35,"f":49.9},{"s":"a2F","x":0.54,"f":50.3},{"s":"a2F","x":0.2,"f":50.7},{"s":"a2F","x":0.12,"f":51.1},{"s":"a2F","x":0.33,"f":51.8},{"s":"a2F","x":0.15,"f":52.3},{"s":"a2F","x":0.09,"f":52.9},{"s":"a2F","x":0.28,"f":53.2},{"s":"a2F","x":0.008,"f":53.8},{"s":"a2F","x":0.008,"f":56.4},{"s":"a2F","x":0.2,"f":56.8},{"s":"a2F","x":0.54,"f":57},{"s":"a2F","x":0.3,"f":57.3},{"s":"a2F","x":0.18,"f":57.6},{"s":"a2F","x":0.6,"f":58.2},{"s":"a2F","x":0.98,"f":58.5},{"s":"a2F","x":0.6,"f":58.7},{"s":"a2F","x":0.65,"f":58.9},{"s":"a2F","x":0.81,"f":59.2},{"s":"a2F","x":0.5,"f":59.5},{"s":"a2F","x":0.36,"f":59.9},{"s":"a2F","x":0.008,"f":60.4},
{"s":"λ = 0.5","x":0,"f":3},{"s":"λ = 0.5","x":0.008,"f":3.6},{"s":"λ = 0.5","x":0.06,"f":6},{"s":"λ = 0.5","x":0.09,"f":9.2},{"s":"λ = 0.5","x":0.117,"f":10.6},{"s":"λ = 0.5","x":0.117,"f":31.2},{"s":"λ = 0.5","x":0.125,"f":33},{"s":"λ = 0.5","x":0.13,"f":34.7},{"s":"λ = 0.5","x":0.16,"f":36.5},{"s":"λ = 0.5","x":0.21,"f":38.8},{"s":"λ = 0.5","x":0.28,"f":41.2},{"s":"λ = 0.5","x":0.33,"f":44.1},{"s":"λ = 0.5","x":0.36,"f":46.2},{"s":"λ = 0.5","x":0.41,"f":49.4},{"s":"λ = 0.5","x":0.43,"f":53.5},{"s":"λ = 0.5","x":0.44,"f":56.4},{"s":"λ = 0.5","x":0.47,"f":58.2},{"s":"λ = 0.5","x":0.5,"f":59.9},{"s":"λ = 0.5","x":0.5,"f":80}
],
"eb":[
{"s":"a2F","x":0.006,"f":1.9},{"s":"a2F","x":0.02,"f":3},{"s":"a2F","x":0.05,"f":4.2},{"s":"a2F","x":0.04,"f":4.8},{"s":"a2F","x":0.083,"f":5.1},{"s":"a2F","x":0.05,"f":5.6},{"s":"a2F","x":0.037,"f":6},{"s":"a2F","x":0.08,"f":6.5},{"s":"a2F","x":0.14,"f":6.9},{"s":"a2F","x":0.06,"f":7.3},{"s":"a2F","x":0.05,"f":7.7},{"s":"a2F","x":0.07,"f":8.3},{"s":"a2F","x":0.11,"f":8.9},{"s":"a2F","x":0.05,"f":9.5},{"s":"a2F","x":0.037,"f":10},{"s":"a2F","x":0.006,"f":10.8},
{"s":"a2F","x":0.006,"f":32.4},{"s":"a2F","x":0.2,"f":32.8},{"s":"a2F","x":0.63,"f":33.1},{"s":"a2F","x":0.11,"f":33.5},{"s":"a2F","x":0.3,"f":34.2},{"s":"a2F","x":0.45,"f":34.8},{"s":"a2F","x":0.02,"f":35.2},{"s":"a2F","x":0.3,"f":35.6},{"s":"a2F","x":0.1,"f":36.1},{"s":"a2F","x":0.19,"f":36.5},{"s":"a2F","x":0.4,"f":37},{"s":"a2F","x":0.66,"f":37.4},{"s":"a2F","x":0.3,"f":37.9},{"s":"a2F","x":0.27,"f":38.5},{"s":"a2F","x":0.5,"f":39},{"s":"a2F","x":0.35,"f":39.5},{"s":"a2F","x":0.82,"f":40.3},{"s":"a2F","x":0.3,"f":40.8},{"s":"a2F","x":0.34,"f":41.2},{"s":"a2F","x":0.6,"f":41.6},{"s":"a2F","x":0.27,"f":42.1},{"s":"a2F","x":0.5,"f":42.8},{"s":"a2F","x":0.76,"f":43.8},{"s":"a2F","x":0.3,"f":44.3},{"s":"a2F","x":0.45,"f":44.8},{"s":"a2F","x":0.5,"f":45.4},{"s":"a2F","x":0.35,"f":45.9},{"s":"a2F","x":0.1,"f":46.5},{"s":"a2F","x":0.8,"f":47},{"s":"a2F","x":0.3,"f":47.5},{"s":"a2F","x":0.53,"f":48.2},{"s":"a2F","x":0.3,"f":48.8},{"s":"a2F","x":0.08,"f":49.4},{"s":"a2F","x":0.43,"f":50.3},{"s":"a2F","x":0.2,"f":50.8},{"s":"a2F","x":0.25,"f":51.4},{"s":"a2F","x":0.19,"f":52.3},{"s":"a2F","x":0.04,"f":53},{"s":"a2F","x":0.006,"f":53.8},{"s":"a2F","x":0.02,"f":54.6},{"s":"a2F","x":0.02,"f":55.3},{"s":"a2F","x":0.15,"f":55.8},{"s":"a2F","x":0.3,"f":56.3},{"s":"a2F","x":0.53,"f":56.7},{"s":"a2F","x":0.3,"f":57.2},{"s":"a2F","x":0.3,"f":57.6},{"s":"a2F","x":0.57,"f":58.2},{"s":"a2F","x":0.3,"f":58.6},{"s":"a2F","x":0.45,"f":59},{"s":"a2F","x":0.43,"f":59.4},{"s":"a2F","x":0.3,"f":59.8},{"s":"a2F","x":0.006,"f":60.1},
{"s":"λ = 0.6","x":0.006,"f":1.3},{"s":"λ = 0.6","x":0.04,"f":3.7},{"s":"λ = 0.6","x":0.083,"f":6},{"s":"λ = 0.6","x":0.14,"f":8.4},{"s":"λ = 0.6","x":0.175,"f":10.7},{"s":"λ = 0.6","x":0.175,"f":32.4},{"s":"λ = 0.6","x":0.19,"f":33.6},{"s":"λ = 0.6","x":0.23,"f":35.3},{"s":"λ = 0.6","x":0.27,"f":37.6},{"s":"λ = 0.6","x":0.31,"f":40},{"s":"λ = 0.6","x":0.36,"f":42.3},{"s":"λ = 0.6","x":0.43,"f":44.7},{"s":"λ = 0.6","x":0.46,"f":47},{"s":"λ = 0.6","x":0.5,"f":48.8},{"s":"λ = 0.6","x":0.53,"f":51.7},{"s":"λ = 0.6","x":0.54,"f":55.8},{"s":"λ = 0.6","x":0.57,"f":58.2},{"s":"λ = 0.6","x":0.595,"f":59.6},{"s":"λ = 0.6","x":0.6,"f":80}
],
"ec":[
{"s":"a2F","x":0,"f":3.8},{"s":"a2F","x":0.09,"f":4.3},{"s":"a2F","x":0.02,"f":4.6},{"s":"a2F","x":0.02,"f":5.4},{"s":"a2F","x":1.8,"f":6},{"s":"a2F","x":0.02,"f":6.4},{"s":"a2F","x":0.18,"f":6.9},{"s":"a2F","x":0.02,"f":7.5},{"s":"a2F","x":0.02,"f":8},{"s":"a2F","x":0,"f":9},{"s":"a2F","x":0.02,"f":10.3},{"s":"a2F","x":2.42,"f":10.6},{"s":"a2F","x":0.02,"f":10.9},{"s":"a2F","x":0.03,"f":12},{"s":"a2F","x":0.02,"f":13},{"s":"a2F","x":0.02,"f":14.5},{"s":"a2F","x":2.97,"f":15.3},{"s":"a2F","x":0.05,"f":15.7},{"s":"a2F","x":1.96,"f":16.1},{"s":"a2F","x":0.02,"f":16.4},{"s":"a2F","x":1.37,"f":16.9},{"s":"a2F","x":0.05,"f":17.3},{"s":"a2F","x":0.4,"f":17.8},{"s":"a2F","x":2.97,"f":18.2},{"s":"a2F","x":0.02,"f":18.7},{"s":"a2F","x":0.6,"f":19.2},{"s":"a2F","x":2.17,"f":19.8},{"s":"a2F","x":0.1,"f":20.2},{"s":"a2F","x":2.97,"f":20.6},{"s":"a2F","x":0.3,"f":21},{"s":"a2F","x":0.37,"f":21.6},{"s":"a2F","x":1.62,"f":22.1},{"s":"a2F","x":0.2,"f":22.6},{"s":"a2F","x":0.02,"f":23.2},{"s":"a2F","x":0.3,"f":23.8},{"s":"a2F","x":2.72,"f":24.5},{"s":"a2F","x":0.1,"f":25},{"s":"a2F","x":0.02,"f":25.3},{"s":"a2F","x":0.25,"f":26},{"s":"a2F","x":0.37,"f":26.6},{"s":"a2F","x":0.05,"f":27.2},{"s":"a2F","x":2.97,"f":27.9},{"s":"a2F","x":0.02,"f":28.4},{"s":"a2F","x":0.73,"f":29},{"s":"a2F","x":0.1,"f":29.5},{"s":"a2F","x":0.02,"f":30},{"s":"a2F","x":0.3,"f":30.5},{"s":"a2F","x":0.55,"f":31.1},{"s":"a2F","x":0.05,"f":31.6},{"s":"a2F","x":0.4,"f":32.1},{"s":"a2F","x":0.73,"f":32.6},{"s":"a2F","x":0.37,"f":33.2},{"s":"a2F","x":0.6,"f":33.7},{"s":"a2F","x":2.72,"f":34.2},{"s":"a2F","x":0.46,"f":34.7},{"s":"a2F","x":0.7,"f":35.3},{"s":"a2F","x":0.3,"f":35.7},{"s":"a2F","x":2.56,"f":36.2},{"s":"a2F","x":0.64,"f":36.8},{"s":"a2F","x":2.33,"f":37.5},{"s":"a2F","x":0.6,"f":38},{"s":"a2F","x":0.37,"f":38.4},{"s":"a2F","x":0.8,"f":39},{"s":"a2F","x":1,"f":39.7},{"s":"a2F","x":0.7,"f":40.1},{"s":"a2F","x":0.46,"f":40.5},{"s":"a2F","x":0.91,"f":41.3},{"s":"a2F","x":0.6,"f":41.7},{"s":"a2F","x":0.27,"f":42.1},{"s":"a2F","x":0.7,"f":42.6},{"s":"a2F","x":0.82,"f":43.1},{"s":"a2F","x":0.4,"f":43.5},{"s":"a2F","x":0.23,"f":43.9},{"s":"a2F","x":0.7,"f":44.5},{"s":"a2F","x":0.87,"f":45.2},{"s":"a2F","x":0.5,"f":45.7},{"s":"a2F","x":0.55,"f":46.3},{"s":"a2F","x":0.8,"f":46.8},{"s":"a2F","x":1.51,"f":47.6},{"s":"a2F","x":0.6,"f":48},{"s":"a2F","x":0.46,"f":48.4},{"s":"a2F","x":0.7,"f":49},{"s":"a2F","x":0.18,"f":49.2},{"s":"a2F","x":0.68,"f":49.7},{"s":"a2F","x":0.5,"f":50.4},{"s":"a2F","x":0.6,"f":51},{"s":"a2F","x":0.45,"f":51.5},{"s":"a2F","x":0.78,"f":52},{"s":"a2F","x":0.55,"f":52.6},{"s":"a2F","x":0.65,"f":53.1},{"s":"a2F","x":0.46,"f":53.4},{"s":"a2F","x":0.64,"f":53.6},{"s":"a2F","x":0.35,"f":54.2},{"s":"a2F","x":0.3,"f":54.8},{"s":"a2F","x":0.2,"f":55.5},{"s":"a2F","x":0.32,"f":56.2},{"s":"a2F","x":0.1,"f":56.7},{"s":"a2F","x":0.09,"f":57.3},{"s":"a2F","x":0.14,"f":57.8},{"s":"a2F","x":0,"f":58.3},
{"s":"λ = 2.54","x":0,"f":5.8},{"s":"λ = 2.54","x":0.18,"f":6.4},{"s":"λ = 2.54","x":0.23,"f":6.5},{"s":"λ = 2.54","x":0.23,"f":10.1},{"s":"λ = 2.54","x":0.41,"f":10.9},{"s":"λ = 2.54","x":0.41,"f":14.8},{"s":"λ = 2.54","x":0.59,"f":15.6},{"s":"λ = 2.54","x":0.87,"f":17.7},{"s":"λ = 2.54","x":1.1,"f":18.7},{"s":"λ = 2.54","x":1.28,"f":20.8},{"s":"λ = 2.54","x":1.42,"f":22.1},{"s":"λ = 2.54","x":1.44,"f":24},{"s":"λ = 2.54","x":1.6,"f":24.8},{"s":"λ = 2.54","x":1.62,"f":27.9},{"s":"λ = 2.54","x":1.72,"f":30},{"s":"λ = 2.54","x":1.83,"f":34.2},{"s":"λ = 2.54","x":1.97,"f":37.4},{"s":"λ = 2.54","x":2.1,"f":39.5},{"s":"λ = 2.54","x":2.24,"f":42.6},{"s":"λ = 2.54","x":2.37,"f":47.3},{"s":"λ = 2.54","x":2.49,"f":52.6},{"s":"λ = 2.54","x":2.53,"f":57.8},{"s":"λ = 2.54","x":2.54,"f":70}
]
},
"vconcat":[
{"hconcat":[
 {"title":{"text":"(a) P4/mmm-YThH₈ at 200GPa","font":"Liberation Serif","fontSize":112,"fontWeight":"normal","anchor":"middle","frame":"bounds","offset":31},
  "hconcat":[
   {"width":909,"height":1159,
    "layer":[
     {"data":{"values":[{}]},"mark":{"type":"rule","strokeDash":[9,5],"color":"#2f4f4f","strokeWidth":1.5},"encoding":{"y":{"datum":0,"type":"quantitative","scale":{"domain":[-5,80],"nice":false},"axis":null}}},
     {"data":{"name":"ba"},"mark":{"type":"line","color":"black","strokeWidth":3.4,"interpolate":"monotone","clip":true},
      "encoding":{
       "x":{"field":"k","type":"quantitative","scale":{"domain":[0,1],"nice":false,"zero":false},"axis":{"orient":"bottom","values":[0,0.217,0.395,0.572,0.698,0.874,1],"labelExpr":"datum.value<0.1?'A':datum.value<0.3?'Γ':datum.value<0.48?'M':datum.value<0.63?'R':datum.value<0.78?'X':datum.value<0.95?'Z':'Γ'","tickSize":-13,"tickWidth":3,"labelPadding":14,"grid":true,"gridDash":[9,5],"gridColor":"#2f4f4f","gridWidth":1.5,"title":null}},
       "y":{"field":"f","type":"quantitative","scale":{"domain":[-5,80],"nice":false,"zero":false},"axis":{"orient":"left","values":[0,10,20,30,40,50,60,70,80],"tickSize":-13,"tickWidth":3,"labelPadding":24,"title":"Frequency (THz)","titlePadding":-2}},
       "detail":{"field":"b","type":"nominal"}}},
     {"data":{"values":[{"k":0,"f":0}]},"mark":{"type":"point","opacity":0},
      "encoding":{
       "x":{"field":"k","type":"quantitative","axis":{"orient":"bottom","values":[0.054,0.109,0.163,0.272,0.326,0.381,0.435,0.49,0.544,0.598,0.653,0.707,0.762,0.816,0.925,0.979],"labels":false,"tickSize":-7,"tickWidth":2.5,"title":null}},
       "y":{"field":"f","type":"quantitative","axis":{"orient":"left","values":[-4,-2,2,4,6,8,12,14,16,18,22,24,26,28,32,34,36,38,42,44,46,48,52,54,56,58,62,64,66,68,72,74,76,78],"labels":false,"tickSize":-7,"tickWidth":2.5,"title":null}}}}
    ],
    "resolve":{"axis":{"x":"independent","y":"independent"}}},
   {"width":372,"height":1159,"title":{"text":"PHDOS","fontSize":44,"font":"DejaVu Sans","fontWeight":"normal","anchor":"middle","offset":12},
    "layer":[
     {"data":{"values":[{}]},"mark":{"type":"rule","strokeDash":[9,5],"color":"#2f4f4f","strokeWidth":1.5},"encoding":{"y":{"datum":0,"type":"quantitative","scale":{"domain":[-5,80],"nice":false},"axis":null}}},
     {"data":{"name":"da"},"mark":{"type":"line","strokeWidth":2.8,"clip":true},
      "encoding":{
       "x":{"field":"x","type":"quantitative","scale":{"domain":[0,0.12],"nice":false,"zero":false},"axis":{"orient":"bottom","values":[0,0.05,0.1],"format":"~g","tickSize":-13,"tickWidth":3,"labelPadding":14,"title":null}},
       "y":{"field":"f","type":"quantitative","scale":{"domain":[-5,80],"nice":false,"zero":false},"axis":null},
       "color":{"field":"s","type":"nominal","scale":{"domain":["total","Y","Th","H"],"range":["#000000","#1a4bdc","#ff2d00","#1db31d"]},"legend":{"orient":"none","legendX":45,"legendY":40,"title":null,"symbolType":"stroke","symbolSize":8836,"symbolStrokeWidth":3,"clipHeight":44,"rowPadding":7,"labelOffset":2,"labelFontSize":47}},
       "order":{"field":"f","type":"quantitative"}}},
     {"data":{"values":[{"x":0}]},"mark":{"type":"point","opacity":0},
      "encoding":{"x":{"field":"x","type":"quantitative","axis":{"orient":"bottom","values":[0.01,0.02,0.03,0.04,0.06,0.07,0.08,0.09,0.11],"labels":false,"tickSize":-7,"tickWidth":2.5,"title":null}}}}
    ],
    "resolve":{"axis":{"x":"independent"}}},
   {"width":372,"height":1159,"title":{"text":"Eliashberg function","fontSize":44,"font":"DejaVu Sans","fontWeight":"normal","anchor":"middle","offset":12},
    "layer":[
     {"data":{"values":[{}]},"mark":{"type":"rule","strokeDash":[9,5],"color":"#2f4f4f","strokeWidth":1.5},"encoding":{"y":{"datum":0,"type":"quantitative","scale":{"domain":[-5,80],"nice":false},"axis":null}}},
     {"data":{"name":"ea"},"mark":{"type":"line","clip":true},
      "encoding":{
       "x":{"field":"x","type":"quantitative","scale":{"domain":[0,1],"nice":false,"zero":false},"axis":{"orient":"bottom","values":[0,0.5,1],"format":".1f","tickSize":-13,"tickWidth":3,"labelPadding":14,"title":null}},
       "y":{"field":"f","type":"quantitative","scale":{"domain":[-5,80],"nice":false,"zero":false},"axis":null},
       "color":{"field":"s","type":"nominal","scale":{"domain":["a2F","λ = 0.5"],"range":["#000000","#1a4bdc"]},"legend":{"values":["λ = 0.5"],"orient":"none","legendX":41,"legendY":1068,"title":null,"symbolType":"stroke","symbolSize":10000,"symbolStrokeWidth":4,"clipHeight":44,"labelOffset":2,"labelFontSize":47}},
       "strokeWidth":{"field":"s","type":"nominal","scale":{"domain":["a2F","λ = 0.5"],"range":[2.5,4]},"legend":null},
       "order":{"field":"f","type":"quantitative"}}},
     {"data":{"values":[{"x":0}]},"mark":{"type":"point","opacity":0},
      "encoding":{"x":{"field":"x","type":"quantitative","axis":{"orient":"bottom","values":[0.1,0.2,0.3,0.4,0.6,0.7,0.8,0.9],"labels":false,"tickSize":-7,"tickWidth":2.5,"title":null}}}}
    ],
    "resolve":{"axis":{"x":"independent"}}}
  ],
  "spacing":46,"bounds":"flush",
  "resolve":{"scale":{"color":"independent","strokeWidth":"independent"},"legend":{"color":"independent"}}},
 {"title":{"text":"(b) I4/mmm-Y₂ThH₁₂ at 200GPa","font":"Liberation Serif","fontSize":112,"fontWeight":"normal","anchor":"middle","frame":"bounds","offset":31},
  "hconcat":[
   {"width":908,"height":1159,
    "layer":[
     {"data":{"values":[{}]},"mark":{"type":"rule","strokeDash":[9,5],"color":"#2f4f4f","strokeWidth":1.5},"encoding":{"y":{"datum":0,"type":"quantitative","scale":{"domain":[-5,80],"nice":false},"axis":null}}},
     {"data":{"name":"bb"},"mark":{"type":"line","color":"black","strokeWidth":3.4,"interpolate":"monotone","clip":true},
      "encoding":{
       "x":{"field":"k","type":"quantitative","scale":{"domain":[0,1],"nice":false,"zero":false},"axis":{"orient":"bottom","values":[0,0.18,0.399,0.575,0.685,0.794,1],"labelExpr":"datum.value<0.1?'G':datum.value<0.3?'Γ':datum.value<0.5?'M':datum.value<0.63?'N':datum.value<0.74?'P':datum.value<0.9?'Γ':'S'","tickSize":-13,"tickWidth":3,"labelPadding":14,"grid":true,"gridDash":[9,5],"gridColor":"#2f4f4f","gridWidth":1.5,"title":null}},
       "y":{"field":"f","type":"quantitative","scale":{"domain":[-5,80],"nice":false,"zero":false},"axis":{"orient":"left","values":[0,10,20,30,40,50,60,70,80],"tickSize":-13,"tickWidth":3,"labelPadding":24,"title":"Frequency (THz)","titlePadding":-2}},
       "detail":{"field":"b","type":"nominal"}}},
     {"data":{"values":[{"k":0,"f":0}]},"mark":{"type":"point","opacity":0},
      "encoding":{
       "x":{"field":"k","type":"quantitative","axis":{"orient":"bottom","values":[0.045,0.09,0.135,0.225,0.27,0.315,0.36,0.45,0.495,0.54,0.63,0.72,0.765,0.855,0.9,0.945],"labels":false,"tickSize":-7,"tickWidth":2.5,"title":null}},
       "y":{"field":"f","type":"quantitative","axis":{"orient":"left","values":[-4,-2,2,4,6,8,12,14,16,18,22,24,26,28,32,34,36,38,42,44,46,48,52,54,56,58,62,64,66,68,72,74,76,78],"labels":false,"tickSize":-7,"tickWidth":2.5,"title":null}}}}
    ],
    "resolve":{"axis":{"x":"independent","y":"independent"}}},
   {"width":372,"height":1159,"title":{"text":"PHDOS","fontSize":44,"font":"DejaVu Sans","fontWeight":"normal","anchor":"middle","offset":12},
    "layer":[
     {"data":{"values":[{}]},"mark":{"type":"rule","strokeDash":[9,5],"color":"#2f4f4f","strokeWidth":1.5},"encoding":{"y":{"datum":0,"type":"quantitative","scale":{"domain":[-5,80],"nice":false},"axis":null}}},
     {"data":{"name":"db"},"mark":{"type":"line","strokeWidth":2.8,"clip":true},
      "encoding":{
       "x":{"field":"x","type":"quantitative","scale":{"domain":[0,0.122],"nice":false,"zero":false},"axis":{"orient":"bottom","values":[0,0.05,0.1],"format":"~g","tickSize":-13,"tickWidth":3,"labelPadding":14,"title":null}},
       "y":{"field":"f","type":"quantitative","scale":{"domain":[-5,80],"nice":false,"zero":false},"axis":null},
       "color":{"field":"s","type":"nominal","scale":{"domain":["total","Y","Th","H"],"range":["#000000","#1a4bdc","#ff2d00","#1db31d"]},"legend":{"orient":"none","legendX":45,"legendY":40,"title":null,"symbolType":"stroke","symbolSize":8836,"symbolStrokeWidth":3,"clipHeight":44,"rowPadding":7,"labelOffset":2,"labelFontSize":47}},
       "order":{"field":"f","type":"quantitative"}}},
     {"data":{"values":[{"x":0}]},"mark":{"type":"point","opacity":0},
      "encoding":{"x":{"field":"x","type":"quantitative","axis":{"orient":"bottom","values":[0.01,0.02,0.03,0.04,0.06,0.07,0.08,0.09,0.11,0.12],"labels":false,"tickSize":-7,"tickWidth":2.5,"title":null}}}}
    ],
    "resolve":{"axis":{"x":"independent"}}},
   {"width":372,"height":1159,"title":{"text":"Eliashberg function","fontSize":44,"font":"DejaVu Sans","fontWeight":"normal","anchor":"middle","offset":12},
    "layer":[
     {"data":{"values":[{}]},"mark":{"type":"rule","strokeDash":[9,5],"color":"#2f4f4f","strokeWidth":1.5},"encoding":{"y":{"datum":0,"type":"quantitative","scale":{"domain":[-5,80],"nice":false},"axis":null}}},
     {"data":{"name":"eb"},"mark":{"type":"line","clip":true},
      "encoding":{
       "x":{"field":"x","type":"quantitative","scale":{"domain":[0,1],"nice":false,"zero":false},"axis":{"orient":"bottom","values":[0,0.5,1],"format":".1f","tickSize":-13,"tickWidth":3,"labelPadding":14,"title":null}},
       "y":{"field":"f","type":"quantitative","scale":{"domain":[-5,80],"nice":false,"zero":false},"axis":null},
       "color":{"field":"s","type":"nominal","scale":{"domain":["a2F","λ = 0.6"],"range":["#000000","#1a4bdc"]},"legend":{"values":["λ = 0.6"],"orient":"none","legendX":41,"legendY":1068,"title":null,"symbolType":"stroke","symbolSize":10000,"symbolStrokeWidth":4,"clipHeight":44,"labelOffset":2,"labelFontSize":47}},
       "strokeWidth":{"field":"s","type":"nominal","scale":{"domain":["a2F","λ = 0.6"],"range":[2.5,4]},"legend":null},
       "order":{"field":"f","type":"quantitative"}}},
     {"data":{"values":[{"x":0}]},"mark":{"type":"point","opacity":0},
      "encoding":{"x":{"field":"x","type":"quantitative","axis":{"orient":"bottom","values":[0.1,0.2,0.3,0.4,0.6,0.7,0.8,0.9],"labels":false,"tickSize":-7,"tickWidth":2.5,"title":null}}}}
    ],
    "resolve":{"axis":{"x":"independent"}}}
  ],
  "spacing":46,"bounds":"flush",
  "resolve":{"scale":{"color":"independent","strokeWidth":"independent"},"legend":{"color":"independent"}}}
 ],
 "spacing":71,
 "resolve":{"scale":{"color":"independent","strokeWidth":"independent"},"legend":{"color":"independent"}}},
{"title":{"text":"(c) P6̄m2-YThH₁₈ at 200GPa","font":"Liberation Serif","fontSize":112,"fontWeight":"normal","anchor":"middle","frame":"bounds","offset":31},
 "hconcat":[
  {"width":922,"height":1170,
   "layer":[
    {"data":{"values":[{}]},"mark":{"type":"rule","strokeDash":[9,5],"color":"#2f4f4f","strokeWidth":1.5},"encoding":{"y":{"datum":0,"type":"quantitative","scale":{"domain":[-5,70],"nice":false},"axis":null}}},
    {"data":{"name":"bc"},"mark":{"type":"line","color":"black","strokeWidth":3.4,"interpolate":"monotone","clip":true},
     "encoding":{
      "x":{"field":"k","type":"quantitative","scale":{"domain":[0,1],"nice":false,"zero":false},"axis":{"orient":"bottom","values":[0,0.141,0.337,0.479,0.655,0.858,1],"labelExpr":"datum.value<0.07?'A':datum.value<0.24?'Γ':datum.value<0.4?'H':datum.value<0.56?'K':datum.value<0.75?'L':datum.value<0.95?'Γ':'M'","tickSize":-13,"tickWidth":3,"labelPadding":14,"grid":true,"gridDash":[9,5],"gridColor":"#2f4f4f","gridWidth":1.5,"title":null}},
      "y":{"field":"f","type":"quantitative","scale":{"domain":[-5,70],"nice":false,"zero":false},"axis":{"orient":"left","values":[0,10,20,30,40,50,60,70],"tickSize":-13,"tickWidth":3,"labelPadding":24,"title":"Frequency (THz)","titlePadding":-2}},
      "detail":{"field":"b","type":"nominal"}}},
    {"data":{"values":[{"k":0,"f":0}]},"mark":{"type":"point","opacity":0},
     "encoding":{
      "x":{"field":"k","type":"quantitative","axis":{"orient":"bottom","values":[0.028,0.056,0.085,0.113,0.169,0.197,0.226,0.254,0.282,0.31,0.367,0.395,0.423,0.451,0.508,0.536,0.564,0.592,0.62,0.677,0.705,0.733,0.761,0.79,0.818,0.846,0.874,0.902,0.931,0.959,0.987],"labels":false,"tickSize":-7,"tickWidth":2.5,"title":null}},
      "y":{"field":"f","type":"quantitative","axis":{"orient":"left","values":[-4,-2,2,4,6,8,12,14,16,18,22,24,26,28,32,34,36,38,42,44,46,48,52,54,56,58,62,64,66,68],"labels":false,"tickSize":-7,"tickWidth":2.5,"title":null}}}}
   ],
   "resolve":{"axis":{"x":"independent","y":"independent"}}},
  {"width":374,"height":1170,"title":{"text":"PHDOS","fontSize":44,"font":"DejaVu Sans","fontWeight":"normal","anchor":"middle","offset":12},
   "layer":[
    {"data":{"values":[{}]},"mark":{"type":"rule","strokeDash":[9,5],"color":"#2f4f4f","strokeWidth":1.5},"encoding":{"y":{"datum":0,"type":"quantitative","scale":{"domain":[-5,70],"nice":false},"axis":null}}},
    {"data":{"name":"dc"},"mark":{"type":"line","strokeWidth":2.8,"clip":true},
     "encoding":{
      "x":{"field":"x","type":"quantitative","scale":{"domain":[0,0.25],"nice":false,"zero":false},"axis":{"orient":"bottom","values":[0,0.1,0.2],"format":"~g","tickSize":-13,"tickWidth":3,"labelPadding":14,"title":null}},
      "y":{"field":"f","type":"quantitative","scale":{"domain":[-5,70],"nice":false,"zero":false},"axis":null},
      "color":{"field":"s","type":"nominal","scale":{"domain":["total","Y","Th","H"],"range":["#000000","#1a4bdc","#ff2d00","#1db31d"]},"legend":{"orient":"none","legendX":45,"legendY":37,"title":null,"symbolType":"stroke","symbolSize":8836,"symbolStrokeWidth":3,"clipHeight":44,"rowPadding":7,"labelOffset":2,"labelFontSize":47}},
      "order":{"field":"f","type":"quantitative"}}},
    {"data":{"values":[{"x":0}]},"mark":{"type":"point","opacity":0},
     "encoding":{"x":{"field":"x","type":"quantitative","axis":{"orient":"bottom","values":[0.02,0.04,0.06,0.08,0.12,0.14,0.16,0.18,0.22,0.24],"labels":false,"tickSize":-7,"tickWidth":2.5,"title":null}}}}
   ],
   "resolve":{"axis":{"x":"independent"}}},
  {"width":374,"height":1170,"title":{"text":"Eliashberg function","fontSize":44,"font":"DejaVu Sans","fontWeight":"normal","anchor":"middle","offset":12},
   "layer":[
    {"data":{"values":[{}]},"mark":{"type":"rule","strokeDash":[9,5],"color":"#2f4f4f","strokeWidth":1.5},"encoding":{"y":{"datum":0,"type":"quantitative","scale":{"domain":[-5,70],"nice":false},"axis":null}}},
    {"data":{"name":"ec"},"mark":{"type":"line","clip":true},
     "encoding":{
      "x":{"field":"x","type":"quantitative","scale":{"domain":[0,3],"nice":false,"zero":false},"axis":{"orient":"bottom","values":[0,2],"format":"d","tickSize":-13,"tickWidth":3,"labelPadding":14,"title":null}},
      "y":{"field":"f","type":"quantitative","scale":{"domain":[-5,70],"nice":false,"zero":false},"axis":null},
      "color":{"field":"s","type":"nominal","scale":{"domain":["a2F","λ = 2.54"],"range":["#000000","#1a4bdc"]},"legend":{"values":["λ = 2.54"],"orient":"none","legendX":43,"legendY":1070,"title":null,"symbolType":"stroke","symbolSize":10000,"symbolStrokeWidth":4,"clipHeight":44,"labelOffset":2,"labelFontSize":47}},
      "strokeWidth":{"field":"s","type":"nominal","scale":{"domain":["a2F","λ = 2.54"],"range":[2.5,4]},"legend":null},
      "order":{"field":"f","type":"quantitative"}}},
    {"data":{"values":[{"x":0}]},"mark":{"type":"point","opacity":0},
     "encoding":{"x":{"field":"x","type":"quantitative","axis":{"orient":"bottom","values":[0.5,1,1.5,2.5],"labels":false,"tickSize":-7,"tickWidth":2.5,"title":null}}}}
   ],
   "resolve":{"axis":{"x":"independent"}}}
 ],
 "spacing":51,"bounds":"flush",
 "resolve":{"scale":{"color":"independent","strokeWidth":"independent"},"legend":{"color":"independent"}}}
],
"spacing":266,
"center":true,
"resolve":{"scale":{"color":"independent","strokeWidth":"independent"},"legend":{"color":"independent"}}
}
